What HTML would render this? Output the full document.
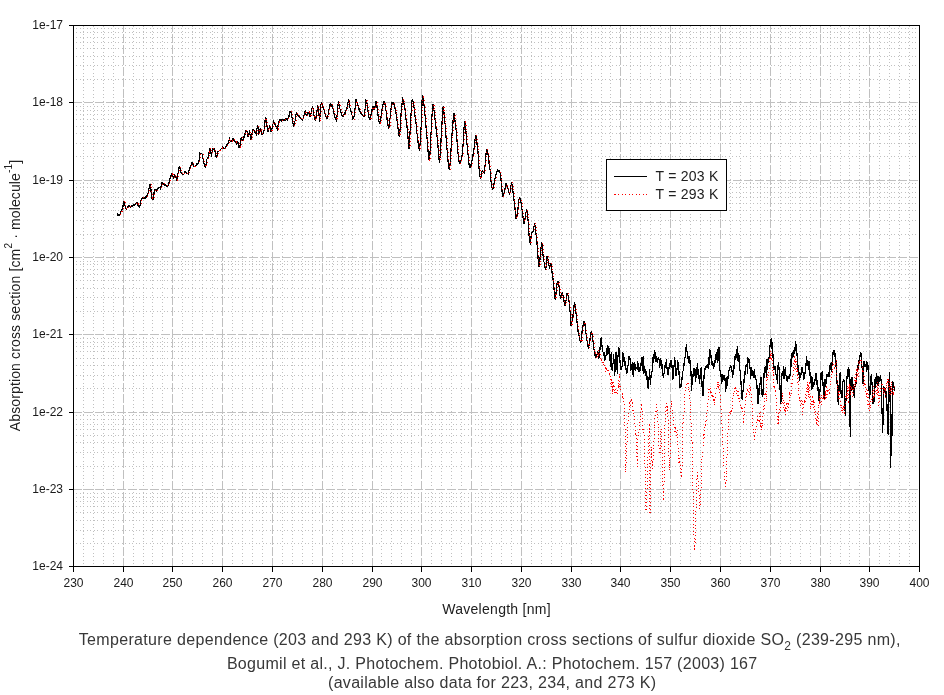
<!DOCTYPE html>
<html><head><meta charset="utf-8"><title>SO2 absorption cross section</title>
<style>html,body{margin:0;padding:0;background:#fff;}svg{display:block;}</style>
</head><body>
<svg width="944" height="695" viewBox="0 0 944 695">
<rect x="0" y="0" width="944" height="695" fill="#fff"/>
<defs><path id="vd" d="M0 26h1v1h-1zM0 31h1v1h-1zM0 34h1v1h-1zM0 38h1v1h-1zM0 41h1v1h-1zM0 45h1v1h-1zM0 48h1v1h-1zM0 52h1v1h-1zM0 55h1v1h-1zM0 59h1v1h-1zM0 62h1v1h-1zM0 66h1v1h-1zM0 69h1v1h-1zM0 73h1v1h-1zM0 76h1v1h-1zM0 80h1v1h-1zM0 83h1v1h-1zM0 87h1v1h-1zM0 90h1v1h-1zM0 94h1v1h-1zM0 97h1v1h-1zM0 101h1v1h-1zM0 104h1v1h-1zM0 108h1v1h-1zM0 111h1v1h-1zM0 115h1v1h-1zM0 118h1v1h-1zM0 122h1v1h-1zM0 125h1v1h-1zM0 129h1v1h-1zM0 132h1v1h-1zM0 136h1v1h-1zM0 139h1v1h-1zM0 143h1v1h-1zM0 146h1v1h-1zM0 150h1v1h-1zM0 153h1v1h-1zM0 158h1v1h-1zM0 161h1v1h-1zM0 165h1v1h-1zM0 168h1v1h-1zM0 172h1v1h-1zM0 175h1v1h-1zM0 179h1v1h-1zM0 182h1v1h-1zM0 186h1v1h-1zM0 189h1v1h-1zM0 193h1v1h-1zM0 196h1v1h-1zM0 200h1v1h-1zM0 203h1v1h-1zM0 207h1v1h-1zM0 210h1v1h-1zM0 214h1v1h-1zM0 217h1v1h-1zM0 221h1v1h-1zM0 224h1v1h-1zM0 228h1v1h-1zM0 231h1v1h-1zM0 235h1v1h-1zM0 238h1v1h-1zM0 242h1v1h-1zM0 245h1v1h-1zM0 249h1v1h-1zM0 252h1v1h-1zM0 256h1v1h-1zM0 259h1v1h-1zM0 263h1v1h-1zM0 266h1v1h-1zM0 270h1v1h-1zM0 273h1v1h-1zM0 277h1v1h-1zM0 280h1v1h-1zM0 284h1v1h-1zM0 287h1v1h-1zM0 292h1v1h-1zM0 295h1v1h-1zM0 299h1v1h-1zM0 302h1v1h-1zM0 306h1v1h-1zM0 309h1v1h-1zM0 313h1v1h-1zM0 316h1v1h-1zM0 320h1v1h-1zM0 323h1v1h-1zM0 327h1v1h-1zM0 330h1v1h-1zM0 334h1v1h-1zM0 337h1v1h-1zM0 341h1v1h-1zM0 344h1v1h-1zM0 348h1v1h-1zM0 351h1v1h-1zM0 355h1v1h-1zM0 358h1v1h-1zM0 362h1v1h-1zM0 365h1v1h-1zM0 369h1v1h-1zM0 372h1v1h-1zM0 376h1v1h-1zM0 379h1v1h-1zM0 383h1v1h-1zM0 386h1v1h-1zM0 390h1v1h-1zM0 393h1v1h-1zM0 397h1v1h-1zM0 400h1v1h-1zM0 404h1v1h-1zM0 407h1v1h-1zM0 411h1v1h-1zM0 414h1v1h-1zM0 419h1v1h-1zM0 422h1v1h-1zM0 426h1v1h-1zM0 429h1v1h-1zM0 433h1v1h-1zM0 436h1v1h-1zM0 440h1v1h-1zM0 443h1v1h-1zM0 447h1v1h-1zM0 450h1v1h-1zM0 454h1v1h-1zM0 457h1v1h-1zM0 461h1v1h-1zM0 464h1v1h-1zM0 468h1v1h-1zM0 471h1v1h-1zM0 475h1v1h-1zM0 478h1v1h-1zM0 482h1v1h-1zM0 485h1v1h-1zM0 489h1v1h-1zM0 492h1v1h-1zM0 496h1v1h-1zM0 499h1v1h-1zM0 503h1v1h-1zM0 506h1v1h-1zM0 510h1v1h-1zM0 513h1v1h-1zM0 517h1v1h-1zM0 520h1v1h-1zM0 524h1v1h-1zM0 527h1v1h-1zM0 531h1v1h-1zM0 534h1v1h-1zM0 538h1v1h-1zM0 541h1v1h-1zM0 546h1v1h-1zM0 549h1v1h-1zM0 553h1v1h-1zM0 556h1v1h-1zM0 560h1v1h-1zM0 563h1v1h-1z" fill="#c0c0c0" shape-rendering="crispEdges"/></defs>
<use href="#vd" x="83"/><use href="#vd" x="93"/><use href="#vd" x="103"/><use href="#vd" x="113"/><use href="#vd" x="133"/><use href="#vd" x="143"/><use href="#vd" x="152"/><use href="#vd" x="162"/><use href="#vd" x="182"/><use href="#vd" x="192"/><use href="#vd" x="202"/><use href="#vd" x="212"/><use href="#vd" x="232"/><use href="#vd" x="242"/><use href="#vd" x="252"/><use href="#vd" x="262"/><use href="#vd" x="282"/><use href="#vd" x="292"/><use href="#vd" x="302"/><use href="#vd" x="312"/><use href="#vd" x="332"/><use href="#vd" x="342"/><use href="#vd" x="352"/><use href="#vd" x="362"/><use href="#vd" x="381"/><use href="#vd" x="391"/><use href="#vd" x="401"/><use href="#vd" x="411"/><use href="#vd" x="431"/><use href="#vd" x="441"/><use href="#vd" x="451"/><use href="#vd" x="461"/><use href="#vd" x="481"/><use href="#vd" x="491"/><use href="#vd" x="501"/><use href="#vd" x="511"/><use href="#vd" x="531"/><use href="#vd" x="541"/><use href="#vd" x="551"/><use href="#vd" x="561"/><use href="#vd" x="581"/><use href="#vd" x="591"/><use href="#vd" x="601"/><use href="#vd" x="610"/><use href="#vd" x="630"/><use href="#vd" x="640"/><use href="#vd" x="650"/><use href="#vd" x="660"/><use href="#vd" x="680"/><use href="#vd" x="690"/><use href="#vd" x="700"/><use href="#vd" x="710"/><use href="#vd" x="730"/><use href="#vd" x="740"/><use href="#vd" x="750"/><use href="#vd" x="760"/><use href="#vd" x="780"/><use href="#vd" x="790"/><use href="#vd" x="800"/><use href="#vd" x="810"/><use href="#vd" x="830"/><use href="#vd" x="840"/><use href="#vd" x="849"/><use href="#vd" x="859"/><use href="#vd" x="879"/><use href="#vd" x="889"/><use href="#vd" x="899"/><use href="#vd" x="909"/>
<defs><path id="hd" d="M76 0h1v1h-1zM80 0h1v1h-1zM83 0h1v1h-1zM87 0h1v1h-1zM90 0h1v1h-1zM94 0h1v1h-1zM97 0h1v1h-1zM101 0h1v1h-1zM104 0h1v1h-1zM108 0h1v1h-1zM111 0h1v1h-1zM115 0h1v1h-1zM118 0h1v1h-1zM122 0h1v1h-1zM125 0h1v1h-1zM129 0h1v1h-1zM132 0h1v1h-1zM136 0h1v1h-1zM139 0h1v1h-1zM143 0h1v1h-1zM146 0h1v1h-1zM150 0h1v1h-1zM153 0h1v1h-1zM157 0h1v1h-1zM160 0h1v1h-1zM164 0h1v1h-1zM167 0h1v1h-1zM171 0h1v1h-1zM174 0h1v1h-1zM178 0h1v1h-1zM181 0h1v1h-1zM185 0h1v1h-1zM188 0h1v1h-1zM192 0h1v1h-1zM195 0h1v1h-1zM199 0h1v1h-1zM202 0h1v1h-1zM206 0h1v1h-1zM210 0h1v1h-1zM214 0h1v1h-1zM217 0h1v1h-1zM221 0h1v1h-1zM224 0h1v1h-1zM228 0h1v1h-1zM231 0h1v1h-1zM235 0h1v1h-1zM238 0h1v1h-1zM242 0h1v1h-1zM245 0h1v1h-1zM249 0h1v1h-1zM252 0h1v1h-1zM256 0h1v1h-1zM259 0h1v1h-1zM263 0h1v1h-1zM266 0h1v1h-1zM270 0h1v1h-1zM273 0h1v1h-1zM277 0h1v1h-1zM280 0h1v1h-1zM284 0h1v1h-1zM287 0h1v1h-1zM291 0h1v1h-1zM294 0h1v1h-1zM298 0h1v1h-1zM301 0h1v1h-1zM305 0h1v1h-1zM308 0h1v1h-1zM312 0h1v1h-1zM315 0h1v1h-1zM319 0h1v1h-1zM322 0h1v1h-1zM326 0h1v1h-1zM329 0h1v1h-1zM333 0h1v1h-1zM337 0h1v1h-1zM341 0h1v1h-1zM344 0h1v1h-1zM348 0h1v1h-1zM351 0h1v1h-1zM355 0h1v1h-1zM358 0h1v1h-1zM362 0h1v1h-1zM365 0h1v1h-1zM369 0h1v1h-1zM372 0h1v1h-1zM376 0h1v1h-1zM379 0h1v1h-1zM383 0h1v1h-1zM386 0h1v1h-1zM390 0h1v1h-1zM393 0h1v1h-1zM397 0h1v1h-1zM400 0h1v1h-1zM404 0h1v1h-1zM407 0h1v1h-1zM411 0h1v1h-1zM414 0h1v1h-1zM418 0h1v1h-1zM421 0h1v1h-1zM425 0h1v1h-1zM428 0h1v1h-1zM432 0h1v1h-1zM435 0h1v1h-1zM439 0h1v1h-1zM442 0h1v1h-1zM446 0h1v1h-1zM449 0h1v1h-1zM453 0h1v1h-1zM456 0h1v1h-1zM460 0h1v1h-1zM464 0h1v1h-1zM468 0h1v1h-1zM471 0h1v1h-1zM475 0h1v1h-1zM478 0h1v1h-1zM482 0h1v1h-1zM485 0h1v1h-1zM489 0h1v1h-1zM492 0h1v1h-1zM496 0h1v1h-1zM499 0h1v1h-1zM503 0h1v1h-1zM506 0h1v1h-1zM510 0h1v1h-1zM513 0h1v1h-1zM517 0h1v1h-1zM520 0h1v1h-1zM524 0h1v1h-1zM527 0h1v1h-1zM531 0h1v1h-1zM534 0h1v1h-1zM538 0h1v1h-1zM541 0h1v1h-1zM545 0h1v1h-1zM548 0h1v1h-1zM552 0h1v1h-1zM555 0h1v1h-1zM559 0h1v1h-1zM562 0h1v1h-1zM566 0h1v1h-1zM569 0h1v1h-1zM573 0h1v1h-1zM576 0h1v1h-1zM580 0h1v1h-1zM583 0h1v1h-1zM587 0h1v1h-1zM591 0h1v1h-1zM595 0h1v1h-1zM598 0h1v1h-1zM602 0h1v1h-1zM605 0h1v1h-1zM609 0h1v1h-1zM612 0h1v1h-1zM616 0h1v1h-1zM619 0h1v1h-1zM623 0h1v1h-1zM626 0h1v1h-1zM630 0h1v1h-1zM633 0h1v1h-1zM637 0h1v1h-1zM640 0h1v1h-1zM644 0h1v1h-1zM647 0h1v1h-1zM651 0h1v1h-1zM654 0h1v1h-1zM658 0h1v1h-1zM661 0h1v1h-1zM665 0h1v1h-1zM668 0h1v1h-1zM672 0h1v1h-1zM675 0h1v1h-1zM679 0h1v1h-1zM682 0h1v1h-1zM686 0h1v1h-1zM689 0h1v1h-1zM693 0h1v1h-1zM696 0h1v1h-1zM700 0h1v1h-1zM703 0h1v1h-1zM707 0h1v1h-1zM710 0h1v1h-1zM714 0h1v1h-1zM718 0h1v1h-1zM722 0h1v1h-1zM725 0h1v1h-1zM729 0h1v1h-1zM732 0h1v1h-1zM736 0h1v1h-1zM739 0h1v1h-1zM743 0h1v1h-1zM746 0h1v1h-1zM750 0h1v1h-1zM753 0h1v1h-1zM757 0h1v1h-1zM760 0h1v1h-1zM764 0h1v1h-1zM767 0h1v1h-1zM771 0h1v1h-1zM774 0h1v1h-1zM778 0h1v1h-1zM781 0h1v1h-1zM785 0h1v1h-1zM788 0h1v1h-1zM792 0h1v1h-1zM795 0h1v1h-1zM799 0h1v1h-1zM802 0h1v1h-1zM806 0h1v1h-1zM809 0h1v1h-1zM813 0h1v1h-1zM816 0h1v1h-1zM820 0h1v1h-1zM823 0h1v1h-1zM827 0h1v1h-1zM830 0h1v1h-1zM834 0h1v1h-1zM837 0h1v1h-1zM841 0h1v1h-1zM844 0h1v1h-1zM848 0h1v1h-1zM852 0h1v1h-1zM856 0h1v1h-1zM859 0h1v1h-1zM863 0h1v1h-1zM866 0h1v1h-1zM870 0h1v1h-1zM873 0h1v1h-1zM877 0h1v1h-1zM880 0h1v1h-1zM884 0h1v1h-1zM887 0h1v1h-1zM891 0h1v1h-1zM894 0h1v1h-1zM898 0h1v1h-1zM901 0h1v1h-1zM905 0h1v1h-1zM908 0h1v1h-1zM912 0h1v1h-1zM915 0h1v1h-1z" fill="#c0c0c0" shape-rendering="crispEdges"/></defs>
<use href="#hd" y="543"/><use href="#hd" y="530"/><use href="#hd" y="520"/><use href="#hd" y="512"/><use href="#hd" y="506"/><use href="#hd" y="501"/><use href="#hd" y="497"/><use href="#hd" y="493"/><use href="#hd" y="466"/><use href="#hd" y="452"/><use href="#hd" y="442"/><use href="#hd" y="435"/><use href="#hd" y="429"/><use href="#hd" y="424"/><use href="#hd" y="419"/><use href="#hd" y="415"/><use href="#hd" y="388"/><use href="#hd" y="375"/><use href="#hd" y="365"/><use href="#hd" y="358"/><use href="#hd" y="351"/><use href="#hd" y="346"/><use href="#hd" y="342"/><use href="#hd" y="338"/><use href="#hd" y="311"/><use href="#hd" y="297"/><use href="#hd" y="288"/><use href="#hd" y="280"/><use href="#hd" y="274"/><use href="#hd" y="269"/><use href="#hd" y="264"/><use href="#hd" y="261"/><use href="#hd" y="234"/><use href="#hd" y="220"/><use href="#hd" y="210"/><use href="#hd" y="203"/><use href="#hd" y="197"/><use href="#hd" y="192"/><use href="#hd" y="187"/><use href="#hd" y="183"/><use href="#hd" y="156"/><use href="#hd" y="143"/><use href="#hd" y="133"/><use href="#hd" y="126"/><use href="#hd" y="119"/><use href="#hd" y="114"/><use href="#hd" y="110"/><use href="#hd" y="106"/><use href="#hd" y="79"/><use href="#hd" y="65"/><use href="#hd" y="56"/><use href="#hd" y="48"/><use href="#hd" y="42"/><use href="#hd" y="37"/><use href="#hd" y="32"/><use href="#hd" y="28"/>
<defs><path id="vm" d="M0 26h1v6h-1zM0 34h1v9h-1zM0 45h1v9h-1zM0 56h1v9h-1zM0 67h1v9h-1zM0 78h1v9h-1zM0 89h1v9h-1zM0 99h1v9h-1zM0 110h1v9h-1zM0 121h1v9h-1zM0 132h1v9h-1zM0 143h1v9h-1zM0 154h1v9h-1zM0 165h1v9h-1zM0 176h1v9h-1zM0 187h1v9h-1zM0 198h1v9h-1zM0 209h1v9h-1zM0 219h1v9h-1zM0 230h1v9h-1zM0 241h1v9h-1zM0 252h1v9h-1zM0 263h1v9h-1zM0 274h1v9h-1zM0 285h1v9h-1zM0 296h1v9h-1zM0 307h1v9h-1zM0 318h1v9h-1zM0 329h1v9h-1zM0 339h1v9h-1zM0 350h1v9h-1zM0 361h1v9h-1zM0 372h1v9h-1zM0 383h1v9h-1zM0 394h1v9h-1zM0 405h1v9h-1zM0 416h1v9h-1zM0 427h1v9h-1zM0 438h1v9h-1zM0 449h1v9h-1zM0 459h1v9h-1zM0 470h1v9h-1zM0 481h1v9h-1zM0 492h1v9h-1zM0 503h1v9h-1zM0 514h1v9h-1zM0 525h1v9h-1zM0 536h1v9h-1zM0 547h1v9h-1zM0 558h1v8h-1z" fill="#c0c0c0" shape-rendering="crispEdges"/></defs>
<use href="#vm" x="123"/><use href="#vm" x="172"/><use href="#vm" x="222"/><use href="#vm" x="272"/><use href="#vm" x="322"/><use href="#vm" x="372"/><use href="#vm" x="421"/><use href="#vm" x="471"/><use href="#vm" x="521"/><use href="#vm" x="571"/><use href="#vm" x="620"/><use href="#vm" x="670"/><use href="#vm" x="720"/><use href="#vm" x="770"/><use href="#vm" x="820"/><use href="#vm" x="869"/>
<path d="M73 489.5H919 M73 412.5H919 M73 334.5H919 M73 257.5H919 M73 180.5H919 M73 102.5H919" stroke="#c0c0c0" stroke-width="1" stroke-dasharray="9 2" fill="none" shape-rendering="crispEdges"/>
<path d="M117.10 213.52 L117.55 215.34 L118.00 215.85 L118.45 215.10 L118.90 215.32 L119.10 215.18 L119.35 215.67 L119.80 214.37 L120.25 213.68 L120.40 211.79 L120.70 213.26 L121.15 211.44 L121.60 211.05 L122.05 209.57 L122.30 208.77 L122.50 208.57 L122.95 206.49 L123.40 203.43 L123.85 201.93 L124.00 202.31 L124.30 202.00 L124.75 203.63 L124.90 205.34 L125.20 205.71 L125.65 206.57 L126.10 208.58 L126.55 209.41 L126.60 208.98 L127.00 208.12 L127.45 207.38 L127.90 206.53 L128.10 205.66 L128.35 205.37 L128.80 206.14 L129.25 206.48 L129.70 206.02 L130.15 206.66 L130.60 207.02 L130.70 206.28 L131.05 205.90 L131.50 206.57 L131.95 206.45 L132.40 206.88 L132.85 205.36 L133.30 205.62 L133.75 205.38 L134.00 204.76 L134.20 205.76 L134.65 205.48 L135.10 203.96 L135.55 204.43 L136.00 203.40 L136.45 202.91 L136.60 202.74 L136.90 203.30 L137.35 202.79 L137.80 204.87 L138.25 205.68 L138.70 205.11 L139.15 207.02 L139.50 206.85 L139.60 207.41 L140.05 205.18 L140.50 202.84 L140.95 200.58 L141.30 198.77 L141.40 199.52 L141.85 198.53 L142.30 198.41 L142.75 197.43 L143.20 198.15 L143.65 197.76 L143.70 197.29 L144.10 197.78 L144.55 198.16 L145.00 198.47 L145.45 196.46 L145.60 197.93 L145.90 197.59 L146.35 196.81 L146.80 195.53 L147.25 195.94 L147.70 193.33 L148.15 193.27 L148.20 193.58 L148.60 190.24 L149.05 188.40 L149.50 185.14 L149.95 184.26 L150.20 184.71 L150.40 185.62 L150.85 187.81 L151.30 194.17 L151.70 197.82 L151.75 198.46 L152.20 198.69 L152.65 198.62 L153.10 199.48 L153.55 197.42 L154.00 193.42 L154.45 189.80 L154.70 189.83 L154.90 189.82 L155.35 189.90 L155.80 190.27 L156.25 190.01 L156.60 190.61 L156.70 191.60 L157.15 190.17 L157.60 188.39 L158.05 189.01 L158.50 187.94 L158.60 188.86 L158.95 187.70 L159.40 187.59 L159.85 187.24 L160.30 189.07 L160.50 189.84 L160.75 187.56 L161.20 186.28 L161.65 185.11 L162.10 182.60 L162.50 182.34 L162.55 182.29 L163.00 183.00 L163.45 184.30 L163.90 184.46 L164.35 185.52 L164.40 184.75 L164.80 185.37 L165.25 184.07 L165.70 184.63 L166.15 186.09 L166.60 185.33 L167.00 186.05 L167.05 186.02 L167.50 186.24 L167.95 185.37 L168.40 184.70 L168.85 183.13 L168.90 182.68 L169.30 181.52 L169.75 179.93 L170.20 177.92 L170.65 176.73 L171.10 175.43 L171.55 174.48 L171.90 173.80 L172.00 172.88 L172.45 174.83 L172.90 176.41 L173.35 178.17 L173.70 178.25 L173.80 177.42 L174.25 175.52 L174.70 175.30 L174.80 174.45 L175.15 175.63 L175.60 177.53 L176.05 177.81 L176.50 179.95 L176.70 180.17 L176.95 179.90 L177.40 177.91 L177.85 174.64 L178.30 171.29 L178.75 167.50 L179.20 166.86 L179.30 166.45 L179.65 167.41 L180.10 168.54 L180.55 171.07 L181.00 172.77 L181.20 172.89 L181.45 173.27 L181.90 173.77 L182.35 173.97 L182.80 174.49 L183.20 174.40 L183.25 174.93 L183.70 174.26 L184.15 173.75 L184.60 171.75 L185.05 172.64 L185.10 171.64 L185.50 171.78 L185.95 172.46 L186.40 172.71 L186.85 173.70 L187.30 173.53 L187.70 173.36 L187.75 173.49 L188.20 174.22 L188.65 172.24 L189.10 170.01 L189.55 169.30 L189.70 167.97 L190.00 169.19 L190.45 165.88 L190.90 165.74 L191.35 164.58 L191.80 162.51 L192.25 163.18 L192.30 163.60 L192.70 163.66 L193.15 164.55 L193.60 166.09 L194.05 166.34 L194.20 166.50 L194.50 166.18 L194.95 166.41 L195.40 165.11 L195.85 165.72 L196.30 164.48 L196.75 163.69 L196.80 164.52 L197.20 165.00 L197.65 164.23 L198.10 162.94 L198.55 163.08 L198.70 162.13 L199.00 160.83 L199.45 156.86 L199.90 152.44 L200.00 153.81 L200.35 153.11 L200.80 153.42 L201.25 153.15 L201.70 153.40 L202.15 154.10 L202.30 155.30 L202.60 156.62 L203.05 158.27 L203.50 162.13 L203.95 163.69 L204.00 162.85 L204.40 165.21 L204.85 166.46 L205.30 166.57 L205.50 167.08 L205.75 166.70 L206.20 163.07 L206.65 159.57 L206.90 159.27 L207.10 158.84 L207.55 158.11 L208.00 158.31 L208.30 158.14 L208.45 156.28 L208.90 153.72 L209.35 150.21 L209.80 148.33 L210.25 149.72 L210.70 151.42 L211.15 154.49 L211.50 156.01 L211.60 155.19 L212.05 152.28 L212.50 150.11 L212.90 149.26 L212.95 148.72 L213.40 148.24 L213.85 149.68 L214.30 148.28 L214.40 149.40 L214.75 150.13 L215.20 152.19 L215.65 156.51 L216.10 157.31 L216.55 155.75 L217.00 155.34 L217.45 153.12 L217.80 151.36 L217.90 151.92 L218.35 151.81 L218.80 151.44 L219.25 150.65 L219.70 150.12 L220.10 149.98 L220.15 149.52 L220.60 149.89 L221.05 148.79 L221.50 148.42 L221.95 148.18 L222.40 146.92 L222.85 146.99 L223.00 148.32 L223.30 147.69 L223.75 147.68 L224.20 148.48 L224.65 148.21 L224.70 148.67 L225.10 147.91 L225.55 147.91 L226.00 146.00 L226.45 146.86 L226.90 144.95 L227.00 144.15 L227.35 144.50 L227.80 143.82 L228.20 143.39 L228.25 142.48 L228.70 141.00 L229.15 140.59 L229.30 137.43 L229.60 138.82 L230.05 140.01 L230.50 141.90 L230.80 141.11 L230.95 141.45 L231.40 141.72 L231.85 140.30 L232.30 140.23 L232.75 138.28 L232.80 138.80 L233.20 140.61 L233.65 138.89 L234.10 139.43 L234.50 140.48 L234.55 140.53 L235.00 141.73 L235.45 142.04 L235.90 142.11 L236.20 142.93 L236.35 144.45 L236.80 143.75 L237.25 141.40 L237.70 143.09 L238.00 142.77 L238.15 143.83 L238.60 144.49 L239.05 147.30 L239.50 147.81 L239.70 147.93 L239.95 146.79 L240.40 142.97 L240.85 139.16 L241.20 138.38 L241.30 137.95 L241.75 138.18 L242.20 140.35 L242.65 140.54 L242.80 140.45 L243.10 139.77 L243.55 138.78 L244.00 137.07 L244.45 133.97 L244.90 134.71 L245.35 132.95 L245.80 130.97 L246.25 130.80 L246.40 130.36 L246.70 131.01 L247.15 131.83 L247.60 135.44 L247.80 136.22 L248.05 136.66 L248.50 135.71 L248.95 134.12 L249.40 131.74 L249.50 131.08 L249.85 133.57 L250.30 135.84 L250.75 139.18 L251.20 139.82 L251.65 138.23 L252.10 133.34 L252.55 130.91 L252.90 129.23 L253.00 129.72 L253.45 130.13 L253.90 130.43 L254.35 131.45 L254.70 131.79 L254.80 132.41 L255.25 133.11 L255.70 133.33 L256.15 133.74 L256.20 135.15 L256.60 131.96 L257.05 128.04 L257.50 125.14 L257.95 126.80 L258.40 130.97 L258.85 134.14 L258.90 134.25 L259.30 133.57 L259.75 130.28 L260.20 128.89 L260.40 128.94 L260.65 130.29 L261.10 129.69 L261.55 133.56 L262.00 134.32 L262.10 134.96 L262.45 134.20 L262.90 133.94 L263.35 133.45 L263.80 131.26 L263.90 130.96 L264.25 128.70 L264.70 123.41 L265.15 119.72 L265.60 117.27 L266.05 118.38 L266.50 122.04 L266.95 125.09 L267.00 125.95 L267.40 127.88 L267.85 129.93 L268.10 131.57 L268.30 131.07 L268.75 129.62 L269.20 127.27 L269.60 126.03 L269.65 125.87 L270.10 127.41 L270.55 130.63 L271.00 131.79 L271.10 130.91 L271.45 131.31 L271.90 128.93 L272.35 127.91 L272.50 126.48 L272.80 124.87 L273.25 123.02 L273.60 121.95 L273.70 121.02 L274.15 122.99 L274.60 124.84 L275.05 123.81 L275.40 126.59 L275.50 125.30 L275.95 126.58 L276.40 128.00 L276.85 128.23 L277.30 130.28 L277.75 128.30 L278.20 124.48 L278.65 122.21 L278.80 121.09 L279.10 121.42 L279.55 121.73 L280.00 119.79 L280.45 120.30 L280.90 120.46 L281.10 120.93 L281.35 121.03 L281.80 119.80 L282.25 119.51 L282.70 120.12 L283.15 119.55 L283.60 119.53 L284.00 120.35 L284.05 120.71 L284.50 119.86 L284.95 119.58 L285.40 120.04 L285.85 118.57 L286.30 119.69 L286.75 118.95 L287.20 120.69 L287.65 119.20 L288.10 118.25 L288.55 117.36 L288.60 115.89 L289.00 116.66 L289.45 115.19 L289.90 111.95 L290.30 112.11 L290.35 112.14 L290.80 111.41 L291.25 114.31 L291.70 116.43 L292.10 117.54 L292.15 117.60 L292.60 121.57 L293.05 123.93 L293.40 126.16 L293.50 126.71 L293.95 124.73 L294.40 124.87 L294.85 122.52 L294.90 121.35 L295.30 120.07 L295.75 115.71 L296.20 114.00 L296.30 113.00 L296.65 114.65 L297.10 114.44 L297.50 115.61 L297.55 115.06 L298.00 115.35 L298.45 116.33 L298.90 115.83 L299.20 115.56 L299.35 115.15 L299.80 117.31 L300.25 118.06 L300.70 118.33 L300.90 118.95 L301.15 118.45 L301.60 118.93 L302.05 119.41 L302.50 120.30 L302.60 120.28 L302.95 119.06 L303.40 118.07 L303.85 116.06 L303.90 115.50 L304.30 114.30 L304.75 111.54 L305.20 110.73 L305.65 112.54 L306.10 114.66 L306.40 115.88 L306.55 114.63 L307.00 115.93 L307.45 114.07 L307.70 114.10 L307.90 112.93 L308.35 112.71 L308.60 112.76 L308.80 112.89 L309.25 114.54 L309.70 115.27 L310.10 116.63 L310.15 116.81 L310.60 115.12 L311.05 113.76 L311.50 110.91 L311.95 108.97 L312.40 107.88 L312.60 106.83 L312.85 107.48 L313.30 110.43 L313.60 113.20 L313.75 113.92 L314.20 116.82 L314.65 119.72 L315.10 119.89 L315.30 120.56 L315.55 120.54 L316.00 117.17 L316.45 114.39 L316.60 114.31 L316.90 111.90 L317.35 107.78 L317.70 105.73 L317.80 105.65 L318.25 108.32 L318.70 110.58 L319.15 116.85 L319.60 121.70 L320.05 115.54 L320.40 109.93 L320.50 109.22 L320.95 104.68 L321.40 102.19 L321.85 103.02 L322.30 105.25 L322.50 104.74 L322.75 106.03 L323.20 108.18 L323.65 109.01 L324.10 110.12 L324.20 110.48 L324.55 111.65 L325.00 113.45 L325.45 114.30 L325.90 116.28 L326.35 118.16 L326.80 117.71 L327.20 118.76 L327.25 118.16 L327.70 116.25 L328.15 114.46 L328.60 111.16 L329.05 109.47 L329.30 107.11 L329.50 107.66 L329.95 105.18 L330.20 103.19 L330.40 104.88 L330.85 105.46 L331.30 104.27 L331.40 105.39 L331.75 104.29 L332.20 106.96 L332.65 107.44 L332.70 108.89 L333.10 108.93 L333.55 110.19 L334.00 113.80 L334.45 116.59 L334.80 115.94 L334.90 117.08 L335.35 118.00 L335.80 118.97 L336.25 120.33 L336.50 121.09 L336.70 118.57 L337.15 114.47 L337.40 111.41 L337.60 108.15 L338.05 104.73 L338.40 103.07 L338.50 101.41 L338.95 104.74 L339.40 106.12 L339.50 106.40 L339.85 108.66 L340.30 109.40 L340.75 110.87 L341.20 112.91 L341.65 114.21 L342.10 115.44 L342.55 115.15 L342.90 115.36 L343.00 116.96 L343.45 115.37 L343.90 115.30 L344.35 113.63 L344.80 113.19 L345.00 112.13 L345.25 113.39 L345.70 110.89 L346.15 110.43 L346.60 109.23 L347.05 108.69 L347.10 106.95 L347.50 105.62 L347.95 102.27 L348.40 100.33 L348.60 99.98 L348.85 100.11 L349.30 103.83 L349.70 106.28 L349.75 107.02 L350.20 108.61 L350.65 109.96 L351.10 111.88 L351.40 113.12 L351.55 114.78 L352.00 114.88 L352.45 117.11 L352.90 119.24 L353.35 117.89 L353.50 118.15 L353.80 117.79 L354.25 115.53 L354.70 113.46 L355.15 107.04 L355.60 102.46 L355.80 100.87 L356.05 99.58 L356.50 100.04 L356.90 102.51 L356.95 102.08 L357.40 102.40 L357.85 105.66 L358.30 105.91 L358.60 108.48 L358.75 109.06 L359.20 108.84 L359.65 109.66 L360.10 111.79 L360.55 111.52 L361.00 113.51 L361.45 113.04 L361.90 114.94 L362.00 114.66 L362.35 114.88 L362.80 115.32 L363.25 116.65 L363.70 115.82 L364.10 116.93 L364.15 116.81 L364.60 113.84 L364.90 109.55 L365.05 109.96 L365.50 103.97 L365.95 99.72 L366.20 100.53 L366.40 101.02 L366.85 102.42 L367.30 105.48 L367.50 107.41 L367.75 108.67 L368.20 112.17 L368.65 116.09 L368.70 115.64 L369.10 117.45 L369.55 119.49 L370.00 120.07 L370.45 119.20 L370.90 116.18 L371.35 112.52 L371.40 112.56 L371.80 111.96 L372.25 108.55 L372.70 106.77 L372.90 107.93 L373.15 106.95 L373.60 107.49 L374.05 109.76 L374.30 109.06 L374.50 109.00 L374.95 107.21 L375.40 103.88 L375.85 101.42 L376.00 101.37 L376.30 101.94 L376.75 105.60 L377.20 108.16 L377.65 111.92 L377.90 115.12 L378.10 114.75 L378.55 118.91 L379.00 121.58 L379.45 122.66 L379.80 122.45 L379.90 123.50 L380.35 121.85 L380.80 118.77 L381.25 114.78 L381.50 113.92 L381.70 112.94 L382.15 108.78 L382.60 107.53 L383.05 104.35 L383.50 102.14 L383.95 101.52 L384.00 102.83 L384.40 102.93 L384.85 103.16 L385.30 106.82 L385.75 109.25 L385.80 109.49 L386.20 111.79 L386.65 114.79 L387.10 120.06 L387.55 122.66 L388.00 126.00 L388.45 127.65 L388.70 127.86 L388.90 128.38 L389.35 125.27 L389.80 120.42 L390.10 117.63 L390.25 116.65 L390.70 112.80 L391.15 107.45 L391.60 104.04 L391.90 102.90 L392.05 102.95 L392.50 103.32 L392.95 102.25 L393.40 104.57 L393.70 103.33 L393.85 103.62 L394.30 105.83 L394.75 106.92 L395.20 108.97 L395.65 110.90 L395.90 111.56 L396.10 113.69 L396.55 117.37 L397.00 119.82 L397.45 125.15 L397.90 127.55 L398.35 131.26 L398.80 134.69 L399.25 135.95 L399.50 136.61 L399.70 134.96 L400.15 128.76 L400.60 120.07 L400.90 116.08 L401.05 114.39 L401.50 108.50 L401.95 104.18 L402.40 99.70 L402.80 97.61 L402.85 100.30 L403.30 99.34 L403.75 101.32 L404.20 105.60 L404.50 107.40 L404.65 106.92 L405.10 109.84 L405.55 113.70 L406.00 118.90 L406.45 122.17 L406.90 126.09 L407.35 130.73 L407.40 131.92 L407.80 134.80 L408.25 141.15 L408.70 145.21 L409.10 149.00 L409.15 148.73 L409.60 142.97 L410.05 132.30 L410.50 123.09 L410.60 119.84 L410.95 115.86 L411.40 107.74 L411.85 101.84 L412.30 99.19 L412.40 99.29 L412.75 100.40 L413.20 102.55 L413.65 105.37 L414.10 108.17 L414.55 112.56 L414.60 112.43 L415.00 116.16 L415.45 118.62 L415.90 121.47 L416.35 126.90 L416.80 132.48 L417.25 135.24 L417.50 136.78 L417.70 139.03 L418.15 142.83 L418.60 146.66 L419.05 148.83 L419.40 149.95 L419.50 149.89 L419.95 145.88 L420.40 138.80 L420.85 131.35 L421.10 127.38 L421.30 122.93 L421.75 109.80 L422.20 98.37 L422.50 96.75 L422.65 95.49 L423.10 97.78 L423.55 101.65 L424.00 104.56 L424.40 108.26 L424.45 109.15 L424.90 113.94 L425.35 118.26 L425.80 123.82 L426.25 129.22 L426.70 133.69 L426.80 136.17 L427.15 139.46 L427.60 144.52 L428.05 151.36 L428.50 155.44 L428.95 159.21 L429.30 160.71 L429.40 159.98 L429.85 156.79 L430.30 146.91 L430.75 138.26 L431.20 130.04 L431.65 122.67 L432.10 113.87 L432.55 106.70 L433.00 103.85 L433.45 105.32 L433.90 109.77 L434.35 113.22 L434.70 117.12 L434.80 117.55 L435.25 121.30 L435.70 124.54 L436.15 129.60 L436.60 131.67 L437.05 136.16 L437.50 140.39 L437.60 141.57 L437.95 145.78 L438.40 152.62 L438.85 159.19 L439.30 161.07 L439.40 162.11 L439.75 159.93 L440.20 155.51 L440.65 146.90 L441.10 138.29 L441.55 130.63 L441.70 129.15 L442.00 123.44 L442.45 114.52 L442.90 109.04 L443.10 106.84 L443.35 106.65 L443.80 110.56 L444.25 115.12 L444.70 120.85 L444.80 122.39 L445.15 124.09 L445.60 132.02 L446.05 137.46 L446.50 142.73 L446.70 144.73 L446.95 148.84 L447.40 153.11 L447.85 158.51 L448.30 163.99 L448.75 166.89 L449.20 169.82 L449.30 169.54 L449.65 168.60 L450.10 164.16 L450.55 156.66 L451.00 150.41 L451.45 141.49 L451.90 136.44 L452.35 129.23 L452.80 124.27 L453.25 118.15 L453.70 115.11 L454.00 113.92 L454.15 113.19 L454.60 116.23 L455.05 121.07 L455.50 125.91 L455.70 126.43 L455.95 128.24 L456.40 133.63 L456.85 139.22 L457.30 144.39 L457.75 149.60 L458.20 155.45 L458.65 159.58 L459.10 162.38 L459.55 162.84 L459.70 163.56 L460.00 163.20 L460.45 161.49 L460.90 161.26 L461.35 158.66 L461.80 155.86 L462.25 154.36 L462.30 153.67 L462.70 150.04 L463.15 143.84 L463.60 136.16 L464.05 128.04 L464.50 123.55 L464.90 122.71 L464.95 121.68 L465.40 124.79 L465.85 130.37 L466.30 136.99 L466.60 140.19 L466.75 141.36 L467.20 145.29 L467.65 150.82 L468.10 155.39 L468.55 159.38 L469.00 163.96 L469.45 166.05 L469.90 166.51 L470.00 167.77 L470.35 166.64 L470.80 166.29 L471.25 163.62 L471.70 162.68 L472.15 159.96 L472.60 157.57 L473.05 154.53 L473.50 154.49 L473.95 149.71 L474.40 145.34 L474.85 141.24 L475.30 137.02 L475.70 136.21 L475.75 135.11 L476.20 137.47 L476.65 140.30 L477.10 145.06 L477.55 149.32 L477.80 150.67 L478.00 152.34 L478.45 158.38 L478.90 165.77 L479.35 171.69 L479.80 176.54 L480.25 177.70 L480.40 177.49 L480.70 178.09 L481.15 175.69 L481.60 172.57 L482.05 171.54 L482.10 171.20 L482.50 170.73 L482.95 171.28 L483.40 172.31 L483.85 172.53 L484.00 172.46 L484.30 173.13 L484.75 168.31 L485.20 163.60 L485.65 157.48 L486.10 153.05 L486.55 150.53 L486.80 150.04 L487.00 149.77 L487.45 151.51 L487.90 153.85 L488.35 155.98 L488.80 158.81 L489.25 165.80 L489.60 167.50 L489.70 167.68 L490.15 170.55 L490.60 175.33 L491.05 181.50 L491.50 183.12 L491.95 187.67 L492.40 189.87 L492.50 189.49 L492.85 189.44 L493.30 187.40 L493.75 186.66 L494.20 182.04 L494.65 179.36 L495.10 178.36 L495.55 177.35 L496.00 174.65 L496.45 173.60 L496.90 171.24 L497.35 169.93 L497.70 171.24 L497.80 171.35 L498.25 171.45 L498.70 170.56 L499.15 170.56 L499.60 171.09 L499.90 172.07 L500.05 172.92 L500.50 175.57 L500.95 178.79 L501.40 184.95 L501.85 189.93 L502.30 194.07 L502.75 196.22 L502.90 196.28 L503.20 196.49 L503.65 194.97 L504.10 193.08 L504.55 190.20 L505.00 188.49 L505.45 186.12 L505.90 183.49 L506.30 184.59 L506.35 184.15 L506.80 185.38 L507.25 185.92 L507.70 187.59 L508.15 189.58 L508.60 191.21 L509.05 192.41 L509.50 192.53 L509.80 194.91 L509.95 192.60 L510.40 190.37 L510.85 186.58 L511.30 183.16 L511.50 182.84 L511.75 183.23 L512.20 185.20 L512.65 187.55 L513.10 192.93 L513.55 194.94 L514.00 200.24 L514.45 204.29 L514.90 208.07 L515.35 212.95 L515.80 217.99 L516.20 218.37 L516.25 218.36 L516.70 218.02 L517.15 215.18 L517.60 212.34 L518.05 207.70 L518.50 203.34 L518.95 199.88 L519.40 198.44 L519.60 197.99 L519.85 197.46 L520.30 199.35 L520.75 201.02 L521.20 203.15 L521.40 204.04 L521.65 206.93 L522.10 210.36 L522.55 214.58 L522.60 214.04 L523.00 217.15 L523.45 221.33 L523.90 223.76 L524.00 223.49 L524.35 222.80 L524.80 220.88 L525.25 217.39 L525.50 215.21 L525.70 214.50 L526.15 211.78 L526.60 210.45 L526.80 209.40 L527.05 210.67 L527.50 214.85 L527.90 218.72 L527.95 218.71 L528.40 225.61 L528.60 228.87 L528.85 232.31 L529.30 238.51 L529.75 242.49 L530.10 243.11 L530.20 244.61 L530.65 240.69 L531.10 235.95 L531.50 233.28 L531.55 232.37 L532.00 232.10 L532.45 232.03 L532.90 232.03 L533.20 230.94 L533.35 228.55 L533.80 227.52 L534.25 224.72 L534.70 223.78 L535.15 225.66 L535.60 231.28 L535.80 232.55 L536.05 234.68 L536.50 238.52 L536.95 241.80 L537.00 243.71 L537.40 249.27 L537.85 255.47 L538.00 257.95 L538.30 261.25 L538.75 265.21 L539.10 266.83 L539.20 266.60 L539.65 263.45 L540.10 257.23 L540.55 252.55 L540.60 250.65 L541.00 248.17 L541.45 243.76 L541.90 242.91 L542.35 246.78 L542.80 252.57 L543.00 254.63 L543.25 256.81 L543.70 261.08 L544.15 262.35 L544.20 263.83 L544.60 264.84 L545.05 268.04 L545.50 269.84 L545.60 269.29 L545.95 268.03 L546.40 262.70 L546.85 256.40 L547.10 256.05 L547.30 256.17 L547.75 257.47 L548.20 261.56 L548.50 262.82 L548.65 264.78 L549.10 265.51 L549.50 267.92 L549.55 266.57 L550.00 267.01 L550.45 264.50 L550.90 263.57 L551.35 265.52 L551.80 269.58 L552.25 274.36 L552.40 275.84 L552.70 276.99 L553.15 280.12 L553.60 283.02 L553.80 286.07 L554.05 289.18 L554.50 294.06 L554.95 298.10 L555.30 299.09 L555.40 298.72 L555.85 294.68 L556.30 289.62 L556.40 287.54 L556.75 286.70 L557.20 282.63 L557.65 281.61 L557.90 281.02 L558.10 281.43 L558.55 283.04 L559.00 285.98 L559.30 288.46 L559.45 288.94 L559.90 294.89 L560.35 296.82 L560.80 298.30 L561.25 297.32 L561.70 295.01 L562.15 292.94 L562.20 294.24 L562.60 295.14 L563.05 295.73 L563.50 298.96 L563.95 300.72 L564.40 303.59 L564.85 305.18 L565.10 305.49 L565.30 305.15 L565.75 301.99 L566.20 299.19 L566.65 294.80 L567.10 293.29 L567.20 293.42 L567.55 293.43 L568.00 294.97 L568.45 298.97 L568.70 299.52 L568.90 300.94 L569.35 304.15 L569.80 309.26 L570.10 311.60 L570.25 312.24 L570.70 321.54 L571.10 325.94 L571.15 325.76 L571.60 323.43 L572.05 321.86 L572.50 319.73 L572.60 319.43 L572.95 316.29 L573.40 310.80 L573.85 307.07 L574.30 303.85 L574.50 302.30 L574.75 303.33 L575.20 306.26 L575.65 309.72 L575.90 312.01 L576.10 313.79 L576.55 317.94 L577.00 322.01 L577.30 323.88 L577.45 326.23 L577.90 330.11 L578.35 333.52 L578.80 334.77 L579.25 336.91 L579.70 339.85 L580.15 341.55 L580.60 341.97 L580.90 342.42 L581.05 341.24 L581.50 338.54 L581.95 332.49 L582.40 328.90 L582.85 326.49 L583.30 324.06 L583.75 321.38 L584.20 321.33 L584.30 321.99 L584.65 322.75 L585.10 325.70 L585.50 329.25 L585.55 329.75 L586.00 333.29 L586.45 336.00 L586.90 339.86 L587.00 340.29 L587.35 342.30 L587.80 344.86 L588.25 347.49 L588.40 347.17 L588.70 348.35 L589.15 344.35 L589.60 340.89 L589.90 338.85 L590.05 339.34 L590.50 334.63 L590.95 332.56 L591.30 331.43 L591.40 331.87 L591.85 333.30 L592.30 335.99 L592.75 338.55 L592.80 339.09 L593.20 342.52 L593.65 346.03 L594.10 350.20 L594.55 352.74 L594.60 351.90 L595.00 355.06 L595.45 357.67 L595.90 357.25 L596.10 356.02 L596.35 357.56 L596.80 354.97 L597.25 353.69 L597.50 353.15 L597.70 351.86 L598.15 354.51 L598.60 353.08 L598.90 358.17 L599.05 356.41 L599.50 354.68 L599.95 349.54 L600.40 342.34 L600.80 340.86 L600.85 339.37 L601.30 337.74 L601.75 344.14 L602.20 347.44 L602.60 346.47 L602.65 351.15 L603.10 352.03 L603.55 355.63 L604.00 354.58 L604.45 353.08 L604.70 360.75 L604.90 360.24 L605.35 357.68 L605.80 355.97 L606.25 355.48 L606.70 354.86 L606.90 353.07 L607.15 346.81 L607.60 354.22 L607.90 345.51 L608.05 349.63 L608.50 350.41 L608.95 353.66 L609.40 348.64 L609.50 358.87 L609.85 358.75 L610.30 362.32 L610.75 366.61 L610.80 359.56 L611.20 352.60 L611.65 365.93 L612.10 370.19 L612.50 369.93 L612.55 363.97 L613.00 363.83 L613.45 362.60 L613.80 354.35 L613.90 358.67 L614.35 364.76 L614.70 375.72 L614.80 367.70 L615.25 371.02 L615.70 359.77 L616.00 352.22 L616.15 366.20 L616.60 358.89 L617.05 368.84 L617.30 373.57 L617.50 364.71 L617.95 355.29 L618.40 356.26 L618.60 351.83 L618.85 347.93 L619.30 351.60 L619.75 357.38 L619.80 362.37 L620.20 360.10 L620.65 365.55 L621.10 369.98 L621.55 367.90 L622.00 366.71 L622.45 363.91 L622.90 352.27 L623.30 361.58 L623.35 358.46 L623.80 358.05 L624.25 357.19 L624.70 358.44 L625.00 362.01 L625.15 366.88 L625.60 366.62 L625.90 369.04 L626.05 369.69 L626.50 373.45 L626.95 368.80 L627.40 367.82 L627.50 372.64 L627.85 365.34 L628.30 365.77 L628.75 356.91 L629.20 359.14 L629.65 356.93 L629.80 357.01 L630.10 359.67 L630.55 368.12 L630.60 370.85 L631.00 368.32 L631.45 369.29 L631.90 366.48 L632.35 362.19 L632.80 374.17 L633.20 372.82 L633.25 376.07 L633.70 369.98 L634.15 362.28 L634.50 369.46 L634.60 367.60 L635.05 364.27 L635.50 365.25 L635.80 370.93 L635.95 368.43 L636.40 368.55 L636.85 367.97 L637.30 367.94 L637.50 361.15 L637.75 367.89 L638.20 370.32 L638.65 367.53 L638.80 363.47 L639.10 371.65 L639.55 368.20 L640.00 371.17 L640.45 365.88 L640.60 363.45 L640.90 366.80 L641.35 358.03 L641.80 363.55 L642.25 363.13 L642.30 370.31 L642.70 367.30 L643.15 356.06 L643.60 373.01 L644.00 366.15 L644.05 372.17 L644.50 368.74 L644.95 372.14 L645.40 374.39 L645.70 373.52 L645.85 369.86 L646.30 379.21 L646.75 376.92 L647.20 376.89 L647.50 380.52 L647.65 376.96 L648.10 388.43 L648.30 383.14 L648.55 382.80 L649.00 378.72 L649.45 370.79 L649.60 369.55 L649.90 376.00 L650.35 380.55 L650.50 384.48 L650.80 380.63 L651.25 372.18 L651.70 373.66 L652.15 370.90 L652.20 371.18 L652.60 365.99 L653.05 357.22 L653.50 362.81 L653.90 354.81 L653.95 359.29 L654.40 351.07 L654.85 358.70 L655.30 352.93 L655.70 359.36 L655.75 361.77 L656.20 361.95 L656.65 356.89 L656.90 358.36 L657.10 358.44 L657.55 362.44 L658.00 359.42 L658.45 357.29 L658.70 357.54 L658.90 358.72 L659.35 360.79 L659.80 367.12 L660.25 363.48 L660.40 364.97 L660.70 358.60 L661.15 361.43 L661.60 364.59 L662.05 364.20 L662.10 369.32 L662.50 375.26 L662.95 374.87 L663.40 377.14 L663.85 374.60 L664.30 371.85 L664.70 365.72 L664.75 368.79 L665.20 365.28 L665.65 362.58 L666.10 362.12 L666.40 359.13 L666.55 359.79 L667.00 368.75 L667.45 367.46 L667.90 374.58 L668.20 372.99 L668.35 371.10 L668.80 369.78 L669.25 366.28 L669.70 366.83 L669.90 363.78 L670.15 363.26 L670.60 366.66 L671.05 360.36 L671.20 364.69 L671.50 362.41 L671.95 367.63 L672.40 366.07 L672.85 370.68 L672.90 379.42 L673.30 371.88 L673.75 369.40 L674.20 363.61 L674.60 364.59 L674.65 357.55 L675.10 361.04 L675.55 370.07 L676.00 375.72 L676.40 373.04 L676.45 373.78 L676.90 370.08 L677.35 366.01 L677.70 360.77 L677.80 360.08 L678.25 367.82 L678.70 366.97 L679.00 372.64 L679.15 375.14 L679.60 378.68 L680.05 387.65 L680.50 387.19 L680.95 386.97 L681.40 380.19 L681.85 377.03 L682.10 379.43 L682.30 377.47 L682.75 371.24 L683.20 370.75 L683.65 366.78 L684.10 363.46 L684.50 365.79 L684.55 358.48 L685.00 358.02 L685.45 354.60 L685.90 349.56 L686.35 345.03 L686.40 351.51 L686.80 350.86 L687.25 352.61 L687.70 355.76 L688.15 358.89 L688.40 357.05 L688.60 362.04 L689.05 356.19 L689.50 363.62 L689.95 359.86 L690.40 365.84 L690.80 372.15 L690.85 369.29 L691.30 381.49 L691.60 390.43 L691.75 387.26 L692.20 381.70 L692.65 374.61 L693.10 376.71 L693.20 373.55 L693.55 373.09 L694.00 367.88 L694.45 375.08 L694.90 369.23 L695.35 375.99 L695.60 370.50 L695.80 381.13 L696.25 367.57 L696.70 376.43 L697.15 373.60 L697.60 363.60 L697.90 368.75 L698.05 375.04 L698.50 378.56 L698.95 375.27 L699.40 383.39 L699.50 381.28 L699.85 379.66 L700.30 374.44 L700.75 376.56 L701.10 368.45 L701.20 367.46 L701.65 373.31 L702.10 386.58 L702.55 393.61 L702.70 388.56 L703.00 395.45 L703.45 380.55 L703.90 376.19 L704.30 374.35 L704.35 378.45 L704.80 368.48 L705.25 368.18 L705.70 369.70 L706.15 365.96 L706.60 367.22 L707.05 367.17 L707.50 365.00 L707.95 366.82 L708.30 367.98 L708.40 364.56 L708.85 367.38 L709.30 350.01 L709.75 349.47 L710.10 356.43 L710.20 352.94 L710.65 351.01 L711.10 357.93 L711.55 364.00 L712.00 360.82 L712.20 365.96 L712.45 363.13 L712.90 363.61 L713.35 364.12 L713.80 368.51 L714.25 360.84 L714.50 363.49 L714.70 366.90 L715.15 358.69 L715.60 354.78 L716.05 359.39 L716.50 354.96 L716.90 353.26 L716.95 354.21 L717.40 349.77 L717.85 362.92 L718.30 348.95 L718.75 350.68 L719.00 347.20 L719.20 352.20 L719.65 368.63 L720.10 371.24 L720.55 375.78 L721.00 374.11 L721.45 383.77 L721.90 379.10 L722.35 374.67 L722.50 381.77 L722.80 377.34 L723.25 379.05 L723.70 375.71 L724.00 375.70 L724.15 375.60 L724.60 375.98 L725.05 379.55 L725.50 391.84 L725.60 388.10 L725.95 389.22 L726.40 385.25 L726.85 377.78 L727.30 378.06 L727.75 385.10 L728.00 376.33 L728.20 376.80 L728.65 370.46 L729.10 370.99 L729.55 369.03 L730.00 367.78 L730.40 367.71 L730.45 365.76 L730.90 366.42 L731.35 369.33 L731.80 371.61 L732.25 370.89 L732.70 377.86 L733.15 371.87 L733.60 370.10 L734.05 365.00 L734.50 368.38 L734.95 358.80 L735.10 356.00 L735.40 356.63 L735.85 359.29 L736.30 350.32 L736.75 357.00 L737.00 352.08 L737.20 346.95 L737.65 352.38 L738.10 361.10 L738.55 354.03 L739.00 354.91 L739.10 361.84 L739.45 367.08 L739.90 370.40 L740.35 370.72 L740.70 376.51 L740.80 378.20 L741.25 388.20 L741.70 398.68 L742.15 394.43 L742.20 399.40 L742.60 392.26 L743.05 391.66 L743.50 381.68 L743.80 379.58 L743.95 382.50 L744.40 373.95 L744.85 376.14 L745.30 367.52 L745.75 367.15 L745.90 366.06 L746.20 364.33 L746.65 364.78 L747.10 367.09 L747.55 373.37 L748.00 357.79 L748.45 362.72 L748.60 361.03 L748.90 359.00 L749.35 365.60 L749.80 364.92 L750.25 371.13 L750.70 378.14 L751.00 367.28 L751.15 375.20 L751.60 375.66 L752.05 370.35 L752.50 375.09 L752.95 374.13 L753.40 371.53 L753.85 377.33 L754.30 369.44 L754.75 377.64 L755.20 376.23 L755.65 375.15 L755.70 378.43 L756.10 380.36 L756.55 388.81 L757.00 385.61 L757.45 394.46 L757.90 396.14 L758.10 403.55 L758.35 393.62 L758.80 398.25 L759.25 384.00 L759.70 386.95 L760.15 382.28 L760.40 383.56 L760.60 379.99 L761.05 377.35 L761.50 381.55 L761.95 394.52 L762.40 392.97 L762.80 390.00 L762.85 396.12 L763.30 386.84 L763.75 379.90 L764.20 371.02 L764.65 375.09 L764.70 377.67 L765.10 366.65 L765.55 370.50 L766.00 372.53 L766.45 376.11 L766.90 359.69 L767.10 368.18 L767.35 369.15 L767.80 359.31 L768.25 362.80 L768.70 358.87 L769.15 356.96 L769.60 347.76 L770.05 346.63 L770.50 339.27 L770.95 341.45 L771.10 339.72 L771.40 338.80 L771.85 339.19 L772.30 355.15 L772.70 357.25 L772.75 356.84 L773.20 354.94 L773.65 359.45 L774.10 369.72 L774.55 369.38 L775.00 366.29 L775.45 371.79 L775.90 374.50 L776.35 375.44 L776.80 374.46 L777.25 383.00 L777.40 380.74 L777.70 376.07 L778.15 364.45 L778.60 362.68 L778.70 364.47 L779.05 369.17 L779.50 371.25 L779.95 386.76 L780.30 393.49 L780.40 396.29 L780.60 400.63 L780.85 403.70 L781.30 389.09 L781.75 377.92 L782.20 371.98 L782.65 375.69 L783.10 370.78 L783.55 366.77 L784.00 379.06 L784.45 371.92 L784.50 369.91 L784.90 370.19 L785.35 367.18 L785.80 375.26 L786.25 375.54 L786.70 380.85 L786.90 379.50 L787.15 379.10 L787.60 381.25 L788.05 376.60 L788.50 376.68 L788.95 378.48 L789.30 374.40 L789.40 378.19 L789.85 375.57 L790.30 375.24 L790.75 368.26 L791.20 357.36 L791.60 361.49 L791.65 366.12 L792.10 352.93 L792.55 355.21 L793.00 356.61 L793.45 350.62 L793.90 351.93 L794.00 353.70 L794.35 347.45 L794.80 350.90 L795.25 349.16 L795.70 341.71 L796.10 345.72 L796.15 349.44 L796.60 347.73 L797.05 355.46 L797.50 362.68 L797.95 364.98 L798.00 369.68 L798.40 371.22 L798.85 370.42 L799.30 378.54 L799.60 380.38 L799.75 380.04 L800.20 373.24 L800.65 374.15 L801.10 374.17 L801.55 367.77 L801.90 370.42 L802.00 370.89 L802.45 367.64 L802.90 372.78 L803.35 372.54 L803.80 379.89 L804.25 377.07 L804.30 375.48 L804.70 376.02 L805.15 372.12 L805.60 368.90 L806.05 364.69 L806.50 356.18 L806.70 357.63 L806.95 361.20 L807.40 361.75 L807.85 360.63 L808.30 369.92 L808.75 365.12 L809.00 361.27 L809.20 364.97 L809.65 372.27 L810.10 375.51 L810.55 372.63 L810.60 379.30 L811.00 380.48 L811.45 389.07 L811.90 376.21 L812.35 388.78 L812.80 383.20 L813.00 387.05 L813.25 382.61 L813.70 383.25 L814.15 384.97 L814.60 379.35 L815.05 380.80 L815.50 375.20 L815.95 373.05 L816.20 373.56 L816.40 373.11 L816.85 378.68 L817.30 389.83 L817.75 385.71 L817.80 384.32 L818.20 392.47 L818.65 400.82 L819.10 400.03 L819.30 401.18 L819.55 400.35 L820.00 390.10 L820.45 388.07 L820.90 373.17 L821.35 376.52 L821.70 379.69 L821.80 372.18 L822.25 372.04 L822.70 377.77 L823.15 386.58 L823.60 392.86 L824.05 399.23 L824.10 395.20 L824.50 384.28 L824.95 379.61 L825.40 385.69 L825.85 386.11 L826.30 374.30 L826.50 377.30 L826.75 376.67 L827.20 376.89 L827.65 374.78 L828.10 375.93 L828.55 376.57 L829.00 371.85 L829.45 372.88 L829.60 376.77 L829.90 365.29 L830.35 363.85 L830.80 367.93 L831.25 371.17 L831.70 363.64 L832.00 365.65 L832.15 360.01 L832.60 361.23 L833.05 352.22 L833.50 353.58 L833.95 350.78 L834.10 350.65 L834.40 354.65 L834.85 356.10 L835.30 353.99 L835.60 361.89 L835.75 354.37 L836.20 369.94 L836.65 383.45 L836.90 379.69 L837.10 383.10 L837.55 391.01 L838.00 402.01 L838.40 400.59 L838.45 404.40 L838.90 391.96 L839.35 377.62 L839.70 374.54 L839.80 374.08 L840.25 372.60 L840.70 393.53 L841.15 393.93 L841.60 390.69 L842.05 397.48 L842.50 387.18 L842.95 381.57 L843.40 380.41 L843.85 379.58 L844.30 383.16 L844.75 404.45 L845.20 412.22 L845.30 415.15 L845.65 406.09 L846.10 398.12 L846.55 388.58 L847.00 376.88 L847.20 375.17 L847.45 375.65 L847.90 369.28 L848.35 376.85 L848.80 367.30 L849.00 370.56 L849.25 374.57 L849.70 399.31 L850.15 429.72 L850.40 436.67 L850.60 424.56 L851.00 382.47 L851.05 378.87 L851.50 384.25 L851.95 377.66 L852.20 383.70 L852.40 386.03 L852.85 388.12 L853.30 384.33 L853.75 385.23 L854.20 397.89 L854.65 391.00 L854.70 387.03 L855.10 386.55 L855.55 385.66 L856.00 383.46 L856.45 374.41 L856.50 378.26 L856.90 372.35 L857.35 370.72 L857.80 370.32 L858.25 363.60 L858.70 364.17 L859.15 360.11 L859.30 358.69 L859.60 362.08 L860.05 355.13 L860.50 356.73 L860.95 352.70 L861.20 354.99 L861.40 354.14 L861.85 365.22 L862.30 369.45 L862.75 376.03 L863.10 383.54 L863.20 367.52 L863.65 371.16 L864.10 361.01 L864.55 366.36 L865.00 366.04 L865.45 366.80 L865.90 365.62 L866.35 361.86 L866.80 371.38 L867.25 366.75 L867.70 365.31 L867.80 362.43 L868.15 371.28 L868.60 378.23 L869.05 389.63 L869.50 398.58 L869.60 398.89 L869.95 393.42 L870.40 394.66 L870.85 379.66 L871.30 374.33 L871.50 378.68 L871.75 379.37 L872.20 386.44 L872.65 394.51 L873.10 403.86 L873.40 403.61 L873.55 399.32 L874.00 401.54 L874.45 385.83 L874.90 379.98 L875.30 380.13 L875.35 377.66 L875.80 387.48 L876.25 373.66 L876.70 376.80 L877.15 380.58 L877.60 385.70 L878.05 380.39 L878.10 376.25 L878.50 385.05 L878.95 377.21 L879.40 378.91 L879.85 381.81 L880.30 375.64 L880.75 375.99 L880.90 379.25 L881.20 380.71 L881.65 398.52 L882.10 414.41 L882.55 432.37 L882.80 431.71 L883.00 420.07 L883.45 391.91 L883.50 386.62 L883.90 390.16 L884.35 387.58 L884.60 392.32 L884.80 392.27 L885.25 388.85 L885.70 396.33 L886.15 392.67 L886.50 395.51 L886.60 391.57 L887.05 409.07 L887.50 421.92 L887.95 433.25 L888.40 434.23 L888.85 388.89 L889.00 384.29 L889.30 373.73 L889.70 372.75 L889.75 372.88 L890.20 409.16 L890.65 467.81 L890.80 460.37 L891.10 449.48 L891.50 419.71 L891.55 414.62 L892.00 433.77 L892.10 435.43 L892.45 416.82 L892.90 381.95 L893.00 384.69 L893.35 387.04 L893.80 384.18 L894.25 390.25 L894.50 388.02" stroke="#000" stroke-width="1.2" fill="none" stroke-linejoin="round" shape-rendering="crispEdges"/>
<path d="M117.90 213.50 L118.35 214.52 L118.80 215.12 L119.25 215.41 L119.70 215.49 L119.90 215.50 L120.15 215.33 L120.60 214.40 L121.05 213.23 L121.20 212.90 L121.50 212.32 L121.95 211.50 L122.40 210.64 L122.85 209.65 L123.10 209.00 L123.30 208.30 L123.75 205.99 L124.20 203.55 L124.65 202.02 L124.80 201.90 L125.10 202.52 L125.55 204.54 L125.70 205.10 L126.00 206.11 L126.45 207.73 L126.90 209.06 L127.35 209.69 L127.40 209.70 L127.80 209.02 L128.25 207.36 L128.70 205.99 L128.90 205.80 L129.15 205.82 L129.60 205.91 L130.05 206.05 L130.50 206.20 L130.95 206.33 L131.40 206.40 L131.50 206.40 L131.85 206.39 L132.30 206.36 L132.75 206.30 L133.20 206.23 L133.65 206.13 L134.10 206.01 L134.55 205.88 L134.80 205.80 L135.00 205.69 L135.45 205.16 L135.90 204.41 L136.35 203.60 L136.80 202.91 L137.25 202.53 L137.40 202.50 L137.70 202.72 L138.15 203.59 L138.60 204.50 L139.05 205.31 L139.50 206.17 L139.95 206.82 L140.30 207.00 L140.40 206.94 L140.85 205.44 L141.30 202.85 L141.75 200.37 L142.10 199.30 L142.20 199.16 L142.65 198.59 L143.10 198.12 L143.55 197.74 L144.00 197.50 L144.45 197.40 L144.50 197.40 L144.90 197.40 L145.35 197.40 L145.80 197.40 L146.25 197.40 L146.40 197.40 L146.70 197.31 L147.15 196.87 L147.60 196.14 L148.05 195.18 L148.50 194.09 L148.95 192.93 L149.00 192.80 L149.40 191.20 L149.85 188.58 L150.30 185.92 L150.75 184.12 L151.00 183.80 L151.20 184.41 L151.65 188.87 L152.10 194.51 L152.50 197.40 L152.55 197.52 L153.00 198.44 L153.45 199.07 L153.90 199.30 L154.35 197.43 L154.80 193.55 L155.25 190.24 L155.50 189.60 L155.70 189.64 L156.15 189.95 L156.60 190.40 L157.05 190.78 L157.40 190.90 L157.50 190.88 L157.95 190.29 L158.40 189.25 L158.85 188.21 L159.30 187.62 L159.40 187.60 L159.75 187.66 L160.20 187.87 L160.65 188.11 L161.10 188.28 L161.30 188.30 L161.55 188.05 L162.00 186.67 L162.45 184.75 L162.90 183.10 L163.30 182.50 L163.35 182.50 L163.80 182.88 L164.25 183.64 L164.70 184.45 L165.15 184.97 L165.20 185.00 L165.60 185.18 L166.05 185.35 L166.50 185.50 L166.95 185.61 L167.40 185.68 L167.80 185.70 L167.85 185.70 L168.30 185.45 L168.75 184.88 L169.20 184.09 L169.65 183.20 L169.70 183.10 L170.10 181.96 L170.55 180.23 L171.00 178.60 L171.45 177.06 L171.90 175.49 L172.35 174.33 L172.70 174.00 L172.80 174.03 L173.25 174.87 L173.70 176.27 L174.15 177.51 L174.50 177.90 L174.60 177.81 L175.05 175.95 L175.50 174.09 L175.60 174.00 L175.95 174.53 L176.40 176.26 L176.85 178.30 L177.30 179.72 L177.50 179.90 L177.75 179.56 L178.20 177.58 L178.65 174.52 L179.10 171.19 L179.55 168.40 L180.00 166.96 L180.10 166.90 L180.45 167.34 L180.90 168.82 L181.35 170.70 L181.80 172.28 L182.00 172.70 L182.25 173.08 L182.70 173.71 L183.15 174.24 L183.60 174.59 L184.00 174.70 L184.05 174.69 L184.50 174.25 L184.95 173.40 L185.40 172.55 L185.85 172.11 L185.90 172.10 L186.30 172.22 L186.75 172.58 L187.20 173.05 L187.65 173.52 L188.10 173.88 L188.50 174.00 L188.55 173.99 L189.00 173.43 L189.45 172.21 L189.90 170.71 L190.35 169.29 L190.50 168.90 L190.80 168.12 L191.25 166.80 L191.70 165.45 L192.15 164.26 L192.60 163.38 L193.05 163.00 L193.10 163.00 L193.50 163.38 L193.95 164.39 L194.40 165.52 L194.85 166.24 L195.00 166.30 L195.30 166.25 L195.75 166.03 L196.20 165.68 L196.65 165.24 L197.10 164.78 L197.55 164.34 L197.60 164.30 L198.00 163.99 L198.45 163.66 L198.90 163.25 L199.35 162.66 L199.50 162.40 L199.80 160.90 L200.25 156.81 L200.70 153.83 L200.80 153.70 L201.15 153.73 L201.60 153.84 L202.05 154.04 L202.50 154.31 L202.95 154.67 L203.10 154.80 L203.40 155.62 L203.85 158.29 L204.30 161.47 L204.75 163.85 L204.80 164.00 L205.20 165.12 L205.65 166.19 L206.10 166.82 L206.30 166.90 L206.55 166.36 L207.00 163.59 L207.45 160.46 L207.70 159.40 L207.90 158.97 L208.35 158.32 L208.80 157.72 L209.10 157.10 L209.25 156.53 L209.70 153.31 L210.15 149.64 L210.60 147.90 L211.05 149.09 L211.50 151.65 L211.95 154.04 L212.30 154.80 L212.40 154.71 L212.85 152.65 L213.30 149.75 L213.70 148.50 L213.75 148.50 L214.20 148.58 L214.65 148.76 L215.10 149.03 L215.20 149.10 L215.55 150.14 L216.00 152.91 L216.45 155.78 L216.90 157.10 L217.35 156.45 L217.80 154.98 L218.25 153.38 L218.60 152.50 L218.70 152.33 L219.15 151.65 L219.60 151.06 L220.05 150.55 L220.50 150.09 L220.90 149.70 L220.95 149.65 L221.40 149.19 L221.85 148.71 L222.30 148.25 L222.75 147.85 L223.20 147.56 L223.65 147.41 L223.80 147.40 L224.10 147.49 L224.55 147.85 L225.00 148.27 L225.45 148.50 L225.50 148.50 L225.90 148.31 L226.35 147.75 L226.80 146.95 L227.25 146.06 L227.70 145.26 L227.80 145.10 L228.15 144.63 L228.60 144.04 L229.00 143.30 L229.05 143.17 L229.50 140.76 L229.95 138.42 L230.10 138.20 L230.40 138.62 L230.85 140.20 L231.30 141.78 L231.60 142.20 L231.75 142.14 L232.20 141.44 L232.65 140.32 L233.10 139.25 L233.55 138.71 L233.60 138.70 L234.00 138.87 L234.45 139.35 L234.90 139.97 L235.30 140.50 L235.35 140.56 L235.80 141.23 L236.25 141.96 L236.70 142.57 L237.00 142.80 L237.15 142.86 L237.60 142.99 L238.05 143.07 L238.50 143.18 L238.80 143.30 L238.95 143.45 L239.40 144.60 L239.85 146.14 L240.30 147.25 L240.50 147.40 L240.75 146.67 L241.20 142.99 L241.65 138.95 L242.00 137.60 L242.10 137.63 L242.55 138.39 L243.00 139.58 L243.45 140.43 L243.60 140.50 L243.90 140.25 L244.35 139.12 L244.80 137.45 L245.25 135.64 L245.70 134.10 L246.15 132.61 L246.60 131.10 L247.05 130.17 L247.20 130.10 L247.50 130.78 L247.95 133.31 L248.40 135.58 L248.60 135.90 L248.85 135.70 L249.30 134.61 L249.75 133.26 L250.20 132.43 L250.30 132.40 L250.65 133.22 L251.10 135.82 L251.55 138.60 L252.00 139.90 L252.45 138.10 L252.90 134.24 L253.35 130.64 L253.70 129.50 L253.80 129.51 L254.25 129.85 L254.70 130.50 L255.15 131.26 L255.50 131.80 L255.60 131.95 L256.05 132.81 L256.50 133.66 L256.95 134.09 L257.00 134.10 L257.40 132.02 L257.85 127.44 L258.30 124.90 L258.75 127.14 L259.20 131.42 L259.65 134.07 L259.70 134.10 L260.10 133.21 L260.55 131.04 L261.00 129.25 L261.20 129.00 L261.45 129.33 L261.90 131.10 L262.35 133.30 L262.80 134.64 L262.90 134.70 L263.25 134.50 L263.70 133.72 L264.15 132.52 L264.60 131.05 L264.70 130.70 L265.05 128.47 L265.50 123.86 L265.95 119.40 L266.40 117.40 L266.85 118.86 L267.30 122.07 L267.75 125.23 L267.80 125.50 L268.20 127.90 L268.65 130.24 L268.90 130.70 L269.10 130.48 L269.55 128.86 L270.00 126.91 L270.40 126.10 L270.45 126.12 L270.90 127.58 L271.35 130.06 L271.80 131.73 L271.90 131.80 L272.25 131.34 L272.70 129.78 L273.15 127.81 L273.30 127.20 L273.60 125.63 L274.05 122.95 L274.40 122.00 L274.50 122.02 L274.95 122.54 L275.40 123.54 L275.85 124.70 L276.20 125.50 L276.30 125.71 L276.75 126.87 L277.20 128.11 L277.65 129.10 L278.10 129.50 L278.55 128.01 L279.00 124.93 L279.45 122.38 L279.60 122.00 L279.90 121.62 L280.35 121.17 L280.80 120.82 L281.25 120.56 L281.70 120.37 L281.90 120.30 L282.15 120.22 L282.60 120.08 L283.05 119.95 L283.50 119.85 L283.95 119.77 L284.40 119.72 L284.80 119.70 L284.85 119.70 L285.30 119.70 L285.75 119.70 L286.20 119.70 L286.65 119.70 L287.10 119.70 L287.55 119.58 L288.00 119.26 L288.45 118.77 L288.90 118.16 L289.35 117.48 L289.40 117.40 L289.80 116.23 L290.25 114.21 L290.70 112.38 L291.10 111.70 L291.15 111.71 L291.60 112.34 L292.05 113.75 L292.50 115.62 L292.90 117.40 L292.95 117.64 L293.40 121.10 L293.85 124.85 L294.20 126.10 L294.30 126.08 L294.75 125.47 L295.20 124.27 L295.65 122.77 L295.70 122.60 L296.10 120.14 L296.55 116.29 L297.00 113.81 L297.10 113.70 L297.45 114.02 L297.90 114.88 L298.30 115.40 L298.35 115.42 L298.80 115.55 L299.25 115.62 L299.70 115.70 L300.00 115.80 L300.15 115.90 L300.60 116.62 L301.05 117.62 L301.50 118.53 L301.70 118.80 L301.95 119.07 L302.40 119.54 L302.85 119.91 L303.30 120.09 L303.40 120.10 L303.75 119.51 L304.20 117.63 L304.65 115.59 L304.70 115.40 L305.10 113.68 L305.55 111.71 L306.00 110.80 L306.45 112.26 L306.90 114.68 L307.20 115.40 L307.35 115.38 L307.80 115.07 L308.25 114.54 L308.50 114.20 L308.70 113.76 L309.15 112.35 L309.40 112.00 L309.60 112.25 L310.05 114.04 L310.50 116.21 L310.90 117.10 L310.95 117.08 L311.40 115.68 L311.85 113.09 L312.30 110.80 L312.75 108.99 L313.20 107.59 L313.40 107.40 L313.65 108.02 L314.10 110.96 L314.40 112.90 L314.55 113.71 L315.00 116.47 L315.45 119.07 L315.90 120.70 L316.10 120.90 L316.35 120.45 L316.80 117.98 L317.25 114.71 L317.40 113.70 L317.70 111.24 L318.15 107.14 L318.50 105.70 L318.60 105.78 L319.05 107.67 L319.50 110.80 L319.95 116.64 L320.40 120.90 L320.85 115.76 L321.20 110.30 L321.30 109.23 L321.75 104.32 L322.20 101.90 L322.65 102.92 L323.10 104.92 L323.30 105.70 L323.55 106.55 L324.00 108.08 L324.45 109.57 L324.90 110.92 L325.00 111.20 L325.35 112.20 L325.80 113.56 L326.25 114.91 L326.70 116.14 L327.15 117.14 L327.60 117.79 L328.00 118.00 L328.05 117.99 L328.50 116.92 L328.95 114.61 L329.40 111.74 L329.85 109.01 L330.10 107.80 L330.30 106.87 L330.75 104.83 L331.00 104.40 L331.20 104.41 L331.65 104.53 L332.10 104.74 L332.20 104.80 L332.55 105.37 L333.00 106.81 L333.45 108.44 L333.50 108.60 L333.90 110.01 L334.35 111.77 L334.80 113.56 L335.25 115.22 L335.60 116.30 L335.70 116.58 L336.15 117.93 L336.60 119.16 L337.05 119.96 L337.30 120.10 L337.50 119.31 L337.95 114.13 L338.20 111.20 L338.40 109.01 L338.85 103.76 L339.20 101.90 L339.30 101.98 L339.75 103.69 L340.20 106.09 L340.30 106.50 L340.65 107.75 L341.10 109.27 L341.55 110.68 L342.00 112.00 L342.45 113.44 L342.90 114.91 L343.35 115.99 L343.70 116.30 L343.80 116.29 L344.25 115.93 L344.70 115.21 L345.15 114.28 L345.60 113.30 L345.80 112.90 L346.05 112.41 L346.50 111.51 L346.95 110.50 L347.40 109.35 L347.85 107.97 L347.90 107.80 L348.30 105.64 L348.75 102.40 L349.20 100.01 L349.40 99.70 L349.65 100.38 L350.10 103.69 L350.50 106.50 L350.55 106.74 L351.00 108.67 L351.45 110.36 L351.90 111.90 L352.20 112.90 L352.35 113.43 L352.80 115.18 L353.25 116.93 L353.70 118.36 L354.15 119.14 L354.30 119.20 L354.60 118.50 L355.05 115.60 L355.50 112.00 L355.95 106.80 L356.40 101.73 L356.60 101.00 L356.85 101.06 L357.30 101.42 L357.70 101.90 L357.75 101.97 L358.20 103.18 L358.65 104.99 L359.10 106.84 L359.40 107.80 L359.55 108.19 L360.00 109.30 L360.45 110.33 L360.90 111.29 L361.35 112.17 L361.80 113.00 L362.25 113.75 L362.70 114.45 L362.80 114.60 L363.15 115.14 L363.60 115.86 L364.05 116.50 L364.50 116.95 L364.90 117.10 L364.95 117.05 L365.40 113.43 L365.70 110.30 L365.85 108.93 L366.30 104.16 L366.75 100.40 L367.00 99.70 L367.20 100.03 L367.65 102.53 L368.10 106.01 L368.30 107.40 L368.55 109.09 L369.00 112.35 L369.45 115.16 L369.50 115.40 L369.90 117.36 L370.35 119.28 L370.80 120.10 L371.25 118.69 L371.70 115.65 L372.15 112.74 L372.20 112.50 L372.60 110.51 L373.05 108.30 L373.50 106.88 L373.70 106.70 L373.95 106.94 L374.40 108.15 L374.85 109.36 L375.10 109.60 L375.30 109.30 L375.75 107.02 L376.20 103.96 L376.65 101.87 L376.80 101.70 L377.10 102.29 L377.55 104.90 L378.00 108.59 L378.45 112.27 L378.70 113.90 L378.90 115.09 L379.35 118.02 L379.80 120.79 L380.25 122.75 L380.60 123.30 L380.70 123.23 L381.15 121.44 L381.60 118.19 L382.05 114.74 L382.30 113.20 L382.50 112.11 L382.95 109.41 L383.40 106.68 L383.85 104.25 L384.30 102.48 L384.75 101.71 L384.80 101.70 L385.20 102.34 L385.65 104.23 L386.10 106.77 L386.55 109.34 L386.60 109.60 L387.00 112.10 L387.45 115.66 L387.90 119.54 L388.35 123.23 L388.80 126.22 L389.25 128.01 L389.50 128.30 L389.70 127.93 L390.15 125.04 L390.60 120.82 L390.90 118.20 L391.05 116.93 L391.50 112.22 L391.95 107.37 L392.40 103.90 L392.70 103.10 L392.85 103.11 L393.30 103.19 L393.75 103.36 L394.20 103.60 L394.50 103.80 L394.65 103.96 L395.10 105.03 L395.55 106.78 L396.00 108.95 L396.45 111.25 L396.70 112.50 L396.90 113.58 L397.35 116.65 L397.80 120.36 L398.25 124.33 L398.70 128.23 L399.15 131.70 L399.60 134.39 L400.05 135.95 L400.30 136.20 L400.50 135.40 L400.95 129.37 L401.40 121.19 L401.70 116.80 L401.85 115.04 L402.30 109.36 L402.75 104.00 L403.20 100.10 L403.60 98.80 L403.65 98.81 L404.10 99.84 L404.55 102.07 L405.00 104.86 L405.30 106.70 L405.45 107.61 L405.90 110.72 L406.35 114.30 L406.80 118.22 L407.25 122.36 L407.70 126.57 L408.15 130.74 L408.20 131.20 L408.60 135.64 L409.05 141.38 L409.50 146.04 L409.90 147.70 L409.95 147.64 L410.40 142.40 L410.85 132.38 L411.30 122.69 L411.40 121.10 L411.75 115.70 L412.20 108.54 L412.65 102.64 L413.10 99.62 L413.20 99.50 L413.55 100.06 L414.00 102.13 L414.45 105.21 L414.90 108.73 L415.35 112.15 L415.40 112.50 L415.80 115.46 L416.25 119.17 L416.70 123.13 L417.15 127.19 L417.60 131.19 L418.05 134.96 L418.30 136.90 L418.50 138.50 L418.95 142.53 L419.40 146.39 L419.85 149.13 L420.20 149.90 L420.30 149.76 L420.75 146.27 L421.20 139.47 L421.65 131.26 L421.90 126.80 L422.10 122.54 L422.55 109.50 L423.00 98.07 L423.30 95.20 L423.45 95.34 L423.90 97.15 L424.35 100.48 L424.80 104.52 L425.20 108.10 L425.25 108.53 L425.70 112.93 L426.15 118.07 L426.60 123.60 L427.05 129.16 L427.50 134.41 L427.60 135.50 L427.95 139.62 L428.40 145.55 L428.85 151.45 L429.30 156.47 L429.75 159.81 L430.10 160.70 L430.20 160.53 L430.65 156.14 L431.10 147.79 L431.55 138.10 L432.00 129.70 L432.45 121.78 L432.90 113.31 L433.35 106.56 L433.80 103.80 L434.25 105.35 L434.70 109.08 L435.15 113.61 L435.50 116.80 L435.60 117.60 L436.05 121.15 L436.50 124.70 L436.95 128.31 L437.40 132.06 L437.85 136.01 L438.30 140.22 L438.40 141.20 L438.75 145.51 L439.20 152.36 L439.65 158.59 L440.10 161.97 L440.20 162.10 L440.55 160.66 L441.00 155.37 L441.45 147.60 L441.90 138.86 L442.35 130.66 L442.50 128.30 L442.80 123.09 L443.25 114.34 L443.70 108.19 L443.90 107.40 L444.15 107.90 L444.60 110.81 L445.05 115.28 L445.50 120.10 L445.60 121.10 L445.95 124.88 L446.40 130.53 L446.85 136.51 L447.30 142.22 L447.50 144.50 L447.75 147.38 L448.20 153.05 L448.65 158.78 L449.10 163.90 L449.55 167.70 L450.00 169.53 L450.10 169.60 L450.45 168.40 L450.90 163.94 L451.35 157.29 L451.80 149.61 L452.25 142.09 L452.70 135.90 L453.15 130.18 L453.60 124.04 L454.05 118.63 L454.50 115.08 L454.80 114.30 L454.95 114.49 L455.40 116.89 L455.85 121.02 L456.30 125.53 L456.50 127.30 L456.75 129.51 L457.20 134.14 L457.65 139.34 L458.10 144.76 L458.55 150.07 L459.00 154.93 L459.45 158.99 L459.90 161.93 L460.35 163.40 L460.50 163.50 L460.80 163.30 L461.25 162.34 L461.70 160.72 L462.15 158.60 L462.60 156.14 L463.05 153.50 L463.10 153.20 L463.50 149.51 L463.95 143.11 L464.40 135.72 L464.85 128.79 L465.30 123.77 L465.70 122.10 L465.75 122.13 L466.20 124.76 L466.65 130.13 L467.10 136.11 L467.40 139.40 L467.55 140.81 L468.00 145.40 L468.45 150.26 L468.90 155.06 L469.35 159.47 L469.80 163.14 L470.25 165.75 L470.70 166.96 L470.80 167.00 L471.15 166.78 L471.60 165.93 L472.05 164.52 L472.50 162.68 L472.95 160.52 L473.40 158.14 L473.85 155.67 L474.30 153.20 L474.75 149.79 L475.20 145.19 L475.65 140.57 L476.10 137.09 L476.50 135.90 L476.55 135.92 L477.00 137.34 L477.45 140.54 L477.90 144.75 L478.35 149.20 L478.60 151.50 L478.80 153.45 L479.25 158.99 L479.70 165.32 L480.15 171.43 L480.60 176.29 L481.05 178.91 L481.20 179.10 L481.50 178.46 L481.95 175.89 L482.40 172.93 L482.85 171.32 L482.90 171.30 L483.30 171.44 L483.75 171.81 L484.20 172.22 L484.65 172.48 L484.80 172.50 L485.10 171.77 L485.55 168.47 L486.00 163.53 L486.45 158.08 L486.90 153.26 L487.35 150.21 L487.60 149.70 L487.80 149.86 L488.25 151.27 L488.70 153.81 L489.15 157.11 L489.60 160.77 L490.05 164.42 L490.40 167.00 L490.50 167.72 L490.95 171.59 L491.40 176.10 L491.85 180.69 L492.30 184.80 L492.75 187.87 L493.20 189.34 L493.30 189.40 L493.65 188.99 L494.10 187.47 L494.55 185.23 L495.00 182.66 L495.45 180.18 L495.90 178.20 L496.35 176.49 L496.80 174.68 L497.25 172.97 L497.70 171.56 L498.15 170.64 L498.50 170.40 L498.60 170.40 L499.05 170.53 L499.50 170.82 L499.95 171.25 L500.40 171.79 L500.70 172.20 L500.85 172.57 L501.30 175.26 L501.75 179.65 L502.20 184.83 L502.65 189.92 L503.10 194.02 L503.55 196.23 L503.70 196.40 L504.00 196.13 L504.45 194.89 L504.90 192.94 L505.35 190.62 L505.80 188.25 L506.25 186.19 L506.70 184.76 L507.10 184.30 L507.15 184.31 L507.60 184.83 L508.05 186.02 L508.50 187.64 L508.95 189.46 L509.40 191.22 L509.85 192.68 L510.30 193.60 L510.60 193.80 L510.75 193.55 L511.20 190.57 L511.65 186.19 L512.10 182.93 L512.30 182.50 L512.55 182.77 L513.00 184.45 L513.45 187.37 L513.90 191.19 L514.35 195.55 L514.80 200.11 L515.25 204.51 L515.70 208.40 L516.15 212.78 L516.60 217.12 L517.00 218.80 L517.05 218.79 L517.50 217.59 L517.95 214.85 L518.40 211.16 L518.85 207.08 L519.30 203.20 L519.75 200.08 L520.20 198.31 L520.40 198.10 L520.65 198.28 L521.10 199.35 L521.55 201.12 L522.00 203.29 L522.20 204.30 L522.45 205.91 L522.90 209.94 L523.35 214.02 L523.40 214.40 L523.80 217.76 L524.25 221.50 L524.70 223.61 L524.80 223.70 L525.15 222.91 L525.60 220.31 L526.05 217.21 L526.30 215.80 L526.50 214.75 L526.95 212.17 L527.40 210.34 L527.60 210.10 L527.85 210.78 L528.30 214.44 L528.70 218.70 L528.75 219.25 L529.20 225.98 L529.40 228.80 L529.65 232.02 L530.10 238.01 L530.55 242.58 L530.90 243.90 L531.00 243.76 L531.45 240.51 L531.90 235.70 L532.30 233.10 L532.35 232.99 L532.80 232.29 L533.25 231.88 L533.70 231.41 L534.00 230.90 L534.15 230.42 L534.60 227.66 L535.05 224.51 L535.50 223.00 L535.95 225.24 L536.40 229.78 L536.60 231.70 L536.85 233.87 L537.30 237.96 L537.75 242.63 L537.80 243.20 L538.20 248.91 L538.65 255.79 L538.80 257.60 L539.10 261.00 L539.55 265.49 L539.90 266.90 L540.00 266.76 L540.45 263.31 L540.90 257.48 L541.35 252.22 L541.40 251.80 L541.80 248.34 L542.25 244.77 L542.70 243.20 L543.15 246.47 L543.60 252.56 L543.80 254.70 L544.05 256.77 L544.50 260.14 L544.95 263.01 L545.00 263.30 L545.40 265.74 L545.85 268.32 L546.30 269.74 L546.40 269.80 L546.75 267.91 L547.20 262.27 L547.65 257.11 L547.90 256.10 L548.10 256.40 L548.55 258.64 L549.00 261.67 L549.30 263.30 L549.45 263.97 L549.90 266.04 L550.30 266.90 L550.35 266.89 L550.80 265.85 L551.25 264.18 L551.70 263.30 L552.15 265.03 L552.60 269.04 L553.05 273.51 L553.20 274.80 L553.50 277.20 L553.95 280.87 L554.40 284.62 L554.60 286.30 L554.85 288.73 L555.30 293.83 L555.75 298.03 L556.10 299.30 L556.20 299.10 L556.65 294.85 L557.10 289.39 L557.20 288.60 L557.55 286.26 L558.00 283.50 L558.45 281.71 L558.70 281.40 L558.90 281.66 L559.35 283.67 L559.80 286.67 L560.10 288.60 L560.25 289.59 L560.70 293.41 L561.15 297.07 L561.60 298.70 L562.05 297.65 L562.50 295.65 L562.95 294.42 L563.00 294.40 L563.40 294.96 L563.85 296.64 L564.30 298.97 L564.75 301.45 L565.20 303.62 L565.65 304.97 L565.90 305.20 L566.10 304.89 L566.55 302.42 L567.00 298.66 L567.45 295.07 L567.90 293.08 L568.00 293.00 L568.35 293.61 L568.80 295.75 L569.25 298.61 L569.50 300.20 L569.70 301.48 L570.15 304.82 L570.60 308.76 L570.90 311.70 L571.05 313.59 L571.50 321.10 L571.90 324.70 L571.95 324.69 L572.40 323.77 L572.85 321.82 L573.30 319.43 L573.40 318.90 L573.75 316.28 L574.20 311.46 L574.65 306.62 L575.10 303.49 L575.30 303.10 L575.55 303.55 L576.00 306.11 L576.45 309.73 L576.70 311.70 L576.90 313.32 L577.35 317.62 L577.80 322.09 L578.10 324.70 L578.25 325.87 L578.70 329.28 L579.15 332.34 L579.60 334.80 L580.05 336.94 L580.50 338.99 L580.95 340.70 L581.40 341.77 L581.70 342.00 L581.85 341.71 L582.30 338.20 L582.75 332.99 L583.20 329.00 L583.65 326.58 L584.10 324.35 L584.55 322.65 L585.00 321.83 L585.10 321.80 L585.45 322.80 L585.90 325.94 L586.30 329.00 L586.35 329.34 L586.80 332.79 L587.25 336.50 L587.70 339.86 L587.80 340.50 L588.15 342.83 L588.60 345.77 L589.05 347.56 L589.20 347.70 L589.50 347.07 L589.95 344.42 L590.40 341.03 L590.70 339.10 L590.85 338.22 L591.30 335.20 L591.75 332.67 L592.10 331.92 L592.20 332.01 L592.65 333.25 L593.10 335.80 L593.55 338.96 L593.60 339.27 L594.00 342.68 L594.45 346.79 L594.90 350.40 L595.35 353.43 L595.40 353.32 L595.80 354.88 L596.25 356.37 L596.70 358.55 L596.90 357.35 L597.15 356.96 L597.60 355.09 L598.05 351.89 L598.30 351.73 L598.50 350.33 L598.90 356.94 L598.95 356.00 L599.40 356.33 L599.85 356.17 L600.00 352.58 L600.30 359.99 L600.75 358.13 L601.20 360.43 L601.65 358.20 L601.70 362.94 L602.10 363.02 L602.55 361.77 L603.00 363.38 L603.45 366.14 L603.50 362.49 L603.90 361.50 L604.35 367.38 L604.80 365.35 L605.20 364.90 L605.25 371.60 L605.70 368.08 L606.00 368.42 L606.15 370.03 L606.60 369.11 L607.05 371.57 L607.30 371.49 L607.50 369.07 L607.95 370.25 L608.40 371.96 L608.50 372.17 L608.85 372.95 L609.30 374.32 L609.75 373.98 L610.20 376.48 L610.40 374.66 L610.65 377.58 L611.10 386.50 L611.55 378.15 L612.00 385.53 L612.45 394.17 L612.90 379.55 L613.00 389.74 L613.35 380.79 L613.80 388.62 L614.10 393.26 L614.25 393.18 L614.70 386.87 L615.15 386.52 L615.50 386.82 L615.60 393.51 L616.05 391.61 L616.50 394.30 L616.95 395.98 L617.10 396.51 L617.40 396.15 L617.85 391.81 L618.30 382.49 L618.75 388.06 L619.20 373.91 L619.65 387.24 L620.10 384.73 L620.55 388.88 L620.70 388.57 L621.00 389.99 L621.45 392.19 L621.90 392.52 L622.20 390.93 L622.35 397.23 L622.80 394.24 L623.25 401.53 L623.70 399.23 L623.80 398.20 L624.15 405.37 L624.60 415.08 L625.05 431.04 L625.50 459.55 L625.80 472.09 L625.95 464.21 L626.40 457.24 L626.85 448.96 L627.20 436.97 L627.30 431.34 L627.75 424.42 L628.20 421.04 L628.65 413.81 L629.10 408.62 L629.20 407.48 L629.55 401.25 L630.00 405.45 L630.45 405.63 L630.90 399.12 L631.35 403.42 L631.80 399.22 L631.90 400.88 L632.25 402.77 L632.70 401.59 L633.15 415.44 L633.30 409.85 L633.60 414.40 L634.05 416.18 L634.50 421.81 L634.95 424.75 L635.40 427.20 L635.85 436.15 L635.90 433.37 L636.30 440.87 L636.75 448.76 L637.20 466.54 L637.30 466.95 L637.65 455.47 L638.10 433.06 L638.30 432.30 L638.55 431.58 L639.00 431.76 L639.45 428.01 L639.90 420.78 L640.30 421.19 L640.35 415.86 L640.80 414.06 L641.25 406.49 L641.30 403.49 L641.70 407.17 L642.15 412.46 L642.60 417.42 L642.70 424.39 L643.05 432.85 L643.50 429.39 L643.95 434.02 L644.40 437.11 L644.85 453.44 L645.30 489.56 L645.75 504.73 L646.00 511.32 L646.20 508.83 L646.65 503.14 L647.10 488.27 L647.55 475.52 L648.00 456.93 L648.45 447.01 L648.90 437.79 L649.35 423.51 L649.40 424.53 L649.80 494.79 L650.00 514.34 L650.25 511.08 L650.70 475.21 L651.15 456.42 L651.40 446.90 L651.60 447.44 L652.05 459.15 L652.50 468.48 L652.80 462.33 L652.95 462.89 L653.40 456.64 L653.85 444.82 L654.30 427.24 L654.75 427.89 L654.80 422.18 L655.20 414.25 L655.65 408.61 L656.10 413.50 L656.50 412.04 L656.55 403.87 L657.00 409.57 L657.45 419.34 L657.90 421.03 L658.35 432.04 L658.50 440.66 L658.80 441.47 L659.25 453.09 L659.50 452.63 L659.70 453.66 L660.15 452.24 L660.60 439.14 L661.05 429.93 L661.50 428.58 L661.95 444.92 L662.40 461.02 L662.85 481.85 L663.30 499.54 L663.50 502.39 L663.75 497.57 L664.20 470.33 L664.65 446.96 L665.10 419.55 L665.50 412.79 L665.55 406.06 L666.00 412.54 L666.45 407.30 L666.90 403.26 L667.35 412.26 L667.50 406.67 L667.80 412.59 L668.25 424.79 L668.70 446.99 L669.15 463.15 L669.60 470.08 L670.05 457.90 L670.50 427.34 L670.95 405.18 L671.30 403.91 L671.40 400.51 L671.85 407.09 L672.30 410.69 L672.75 411.46 L673.20 418.00 L673.65 421.80 L673.90 423.81 L674.10 426.47 L674.55 430.15 L675.00 432.84 L675.45 426.47 L675.90 428.44 L676.35 435.92 L676.50 434.40 L676.80 433.93 L677.25 430.00 L677.70 439.21 L678.15 448.43 L678.60 451.67 L679.00 463.62 L679.05 458.32 L679.50 463.39 L679.95 463.98 L680.40 468.66 L680.85 473.49 L681.30 475.91 L681.60 477.58 L681.75 477.81 L682.20 458.98 L682.65 437.69 L682.90 422.39 L683.10 423.31 L683.55 415.23 L684.00 411.82 L684.45 399.64 L684.90 395.49 L685.35 387.25 L685.80 387.36 L686.25 384.88 L686.70 380.72 L686.80 381.26 L687.15 382.74 L687.60 385.57 L688.05 381.95 L688.50 390.26 L688.95 389.12 L689.40 398.75 L689.85 401.68 L690.30 402.58 L690.75 410.34 L691.20 429.58 L691.65 434.96 L692.00 443.71 L692.10 443.56 L692.55 462.83 L693.00 489.68 L693.45 514.15 L693.90 531.28 L694.35 550.94 L694.60 550.33 L694.80 545.27 L695.25 540.89 L695.70 520.45 L696.15 504.42 L696.60 483.98 L697.05 477.50 L697.20 470.77 L697.50 478.06 L697.95 477.78 L698.40 490.76 L698.85 490.70 L699.30 504.37 L699.70 508.88 L699.75 508.12 L700.20 506.60 L700.65 491.50 L701.10 488.70 L701.55 477.41 L702.00 458.89 L702.30 455.18 L702.45 453.90 L702.90 450.02 L703.35 445.60 L703.80 432.89 L704.25 437.81 L704.70 431.12 L705.15 424.84 L705.60 426.90 L706.05 419.07 L706.20 422.23 L706.50 417.62 L706.95 410.50 L707.40 410.26 L707.85 404.42 L708.30 396.02 L708.75 388.78 L709.20 388.91 L709.65 390.39 L710.10 387.07 L710.55 393.69 L711.00 390.67 L711.45 392.66 L711.90 395.86 L712.35 394.64 L712.80 399.42 L713.25 399.78 L713.70 395.92 L714.00 397.90 L714.15 405.42 L714.60 400.56 L715.05 399.05 L715.50 391.68 L715.95 390.75 L716.40 391.31 L716.85 386.11 L717.30 381.99 L717.75 387.22 L717.80 382.40 L718.20 382.14 L718.65 388.71 L719.10 383.24 L719.55 394.35 L720.00 394.25 L720.45 400.66 L720.90 406.67 L721.35 414.85 L721.70 419.11 L721.80 420.98 L722.25 427.94 L722.70 440.68 L723.15 451.76 L723.60 459.26 L724.05 469.34 L724.50 474.51 L724.95 478.77 L725.40 487.38 L725.60 486.09 L725.85 487.23 L726.30 471.09 L726.75 472.00 L727.20 445.67 L727.65 436.52 L728.10 430.57 L728.20 422.31 L728.55 421.92 L729.00 414.40 L729.45 413.65 L729.90 409.99 L730.35 414.27 L730.80 413.04 L731.25 409.29 L731.70 411.94 L732.10 410.09 L732.15 405.56 L732.60 401.50 L733.05 397.26 L733.50 392.63 L733.95 394.46 L734.40 389.00 L734.70 386.79 L734.85 387.13 L735.30 389.70 L735.75 387.36 L736.20 390.26 L736.65 390.16 L737.10 395.51 L737.55 396.24 L738.00 389.90 L738.45 395.27 L738.90 399.56 L739.35 397.76 L739.80 403.32 L740.25 403.65 L740.70 406.17 L741.10 405.71 L741.15 407.02 L741.60 409.96 L742.05 406.81 L742.50 411.45 L742.95 413.71 L743.40 423.53 L743.70 419.72 L743.85 419.70 L744.30 416.09 L744.75 408.60 L745.20 401.54 L745.65 400.41 L746.10 392.63 L746.30 397.68 L746.55 392.91 L747.00 391.61 L747.45 389.79 L747.90 389.46 L748.35 389.15 L748.80 393.12 L749.25 395.20 L749.70 384.43 L750.15 388.59 L750.20 389.95 L750.60 386.53 L751.05 391.85 L751.50 399.04 L751.95 401.06 L752.40 418.49 L752.85 423.98 L753.30 429.89 L753.75 433.99 L754.00 435.07 L754.20 441.18 L754.65 433.72 L755.10 433.84 L755.55 427.36 L756.00 427.34 L756.45 422.72 L756.90 420.91 L757.35 416.95 L757.80 416.40 L757.90 420.20 L758.25 421.23 L758.70 420.96 L759.15 418.46 L759.60 422.51 L760.05 411.25 L760.50 428.00 L760.95 424.38 L761.40 426.23 L761.60 430.32 L761.85 422.72 L762.30 426.27 L762.75 415.63 L763.20 415.00 L763.65 405.78 L764.00 405.86 L764.10 410.28 L764.55 397.46 L765.00 394.46 L765.45 392.67 L765.90 392.54 L766.30 401.01 L766.35 385.68 L766.80 376.38 L767.25 380.16 L767.70 373.57 L768.15 375.78 L768.60 375.82 L769.05 368.60 L769.50 366.65 L769.95 356.46 L770.40 359.80 L770.85 351.24 L771.10 358.73 L771.30 358.87 L771.75 352.72 L772.20 359.30 L772.65 366.44 L773.10 374.84 L773.40 366.90 L773.55 375.49 L774.00 388.29 L774.45 383.56 L774.90 389.09 L775.35 392.32 L775.80 391.29 L776.25 406.22 L776.70 409.35 L777.15 414.97 L777.60 422.41 L778.05 425.34 L778.20 413.43 L778.50 423.50 L778.95 415.95 L779.40 415.78 L779.80 409.27 L779.85 408.35 L780.30 414.22 L780.75 407.51 L781.20 404.14 L781.65 402.51 L782.10 403.41 L782.20 402.95 L782.55 392.47 L783.00 399.63 L783.45 403.11 L783.90 408.24 L784.35 411.68 L784.80 401.82 L785.25 415.00 L785.30 406.70 L785.70 408.38 L786.15 403.42 L786.60 402.51 L787.05 410.93 L787.50 402.50 L787.95 401.91 L788.40 406.35 L788.85 407.54 L789.30 391.58 L789.75 395.38 L790.20 393.10 L790.65 397.75 L791.10 397.10 L791.55 382.64 L791.60 384.26 L792.00 384.04 L792.45 382.38 L792.90 372.80 L793.35 375.38 L793.80 366.08 L794.25 355.54 L794.70 360.63 L794.80 367.80 L795.15 370.76 L795.60 358.50 L796.05 362.78 L796.50 373.49 L796.95 361.23 L797.20 380.50 L797.40 383.94 L797.85 369.42 L798.30 390.44 L798.75 390.23 L799.20 401.09 L799.60 398.31 L799.65 396.19 L800.10 399.84 L800.55 405.49 L801.00 403.89 L801.45 404.73 L801.90 399.19 L802.35 408.59 L802.70 406.74 L802.80 414.88 L803.25 405.87 L803.70 404.13 L804.15 399.76 L804.60 403.59 L805.05 397.04 L805.50 392.51 L805.90 401.17 L805.95 401.77 L806.40 389.59 L806.85 384.66 L807.30 392.15 L807.75 381.57 L808.20 397.23 L808.30 383.85 L808.65 389.47 L809.10 381.61 L809.55 390.56 L810.00 398.99 L810.45 398.61 L810.60 394.75 L810.90 409.07 L811.35 402.30 L811.80 398.69 L812.25 397.66 L812.70 399.85 L813.15 407.98 L813.60 399.43 L813.80 403.64 L814.05 400.80 L814.50 413.07 L814.95 410.36 L815.40 418.83 L815.85 420.82 L816.30 417.80 L816.60 424.06 L816.75 424.99 L817.20 413.47 L817.65 418.07 L818.10 426.48 L818.55 404.73 L819.00 405.80 L819.30 395.86 L819.45 403.76 L819.90 398.46 L820.35 404.18 L820.80 400.14 L821.25 394.76 L821.70 404.83 L822.15 398.62 L822.60 394.71 L823.05 399.24 L823.30 394.32 L823.50 400.27 L823.95 397.64 L824.40 395.62 L824.85 399.64 L825.30 390.11 L825.75 399.59 L826.20 385.37 L826.50 401.29 L826.65 394.61 L827.10 391.98 L827.55 389.28 L828.00 394.55 L828.45 390.71 L828.90 389.89 L829.35 394.48 L829.60 387.23 L829.80 387.47 L830.25 388.03 L830.70 387.52 L831.15 378.00 L831.60 375.38 L832.05 371.24 L832.50 371.63 L832.80 373.88 L832.95 362.45 L833.40 364.93 L833.85 364.26 L834.30 366.25 L834.75 369.70 L835.20 362.36 L835.60 363.27 L835.65 367.49 L836.10 360.05 L836.55 369.08 L837.00 378.12 L837.45 385.69 L837.50 387.14 L837.90 386.22 L838.35 398.88 L838.80 389.61 L839.25 393.62 L839.70 401.12 L840.15 401.40 L840.60 399.75 L840.70 402.00 L841.05 405.98 L841.50 405.24 L841.95 411.37 L842.40 406.88 L842.85 413.02 L843.10 405.48 L843.30 408.74 L843.75 406.29 L844.20 414.89 L844.65 404.16 L845.10 404.51 L845.55 395.99 L846.00 396.95 L846.20 395.85 L846.45 392.41 L846.90 398.77 L847.35 385.86 L847.80 395.09 L848.25 403.42 L848.70 386.96 L849.00 390.72 L849.15 383.49 L849.60 390.96 L850.05 384.02 L850.50 395.90 L850.95 391.86 L851.40 386.54 L851.85 389.53 L852.00 388.22 L852.30 393.98 L852.75 398.32 L853.20 391.18 L853.65 385.82 L854.10 385.40 L854.55 387.76 L855.00 374.22 L855.45 386.24 L855.90 383.44 L856.35 368.26 L856.80 382.85 L857.25 367.89 L857.70 372.47 L858.00 377.67 L858.15 364.16 L858.60 361.28 L859.05 362.60 L859.50 360.83 L859.95 363.49 L860.40 360.47 L860.85 359.96 L861.00 359.98 L861.30 361.72 L861.75 360.39 L862.20 368.64 L862.65 370.55 L863.10 369.50 L863.55 385.90 L864.00 374.34 L864.45 385.64 L864.90 380.78 L865.35 387.69 L865.80 390.18 L866.25 393.42 L866.70 397.65 L867.00 388.35 L867.15 405.93 L867.60 396.54 L868.05 392.94 L868.50 392.38 L868.95 411.10 L869.40 409.15 L869.85 402.16 L870.00 405.80 L870.30 408.24 L870.75 402.11 L871.20 398.84 L871.65 399.53 L872.10 402.37 L872.55 397.45 L873.00 390.68 L873.45 398.80 L873.90 386.23 L874.35 389.52 L874.80 397.58 L875.25 392.10 L875.70 391.54 L876.00 390.84 L876.15 395.15 L876.60 390.94 L877.05 383.63 L877.50 395.47 L877.95 381.98 L878.40 388.07 L878.85 405.57 L879.00 403.12 L879.30 395.86 L879.75 396.11 L880.20 394.50 L880.65 396.04 L881.10 385.37 L881.55 383.00 L882.00 383.44 L882.45 387.39 L882.90 389.05 L883.35 387.49 L883.80 394.36 L884.25 387.52 L884.70 392.77 L885.00 390.14 L885.15 388.61 L885.60 397.82 L886.05 388.75 L886.50 383.19 L886.95 385.60 L887.40 378.85 L887.85 385.14 L888.00 386.23 L888.30 387.21 L888.75 378.39 L889.20 383.76 L889.65 394.26 L890.10 386.04 L890.55 393.78 L891.00 395.35 L891.45 381.96 L891.90 393.82 L892.35 391.57 L892.80 391.88 L893.25 395.23 L893.70 388.99 L894.15 386.46 L894.50 388.15" stroke="#f00" stroke-width="1" fill="none" stroke-dasharray="1 2.5" shape-rendering="crispEdges"/>
<path d="M69 25.5H919 M73.5 25V572 M69 566.5H920 M919.5 25V572" stroke="#000" stroke-width="1" fill="none" shape-rendering="crispEdges"/>
<path d="M73.5 566V572 M123.5 566V572 M172.5 566V572 M222.5 566V572 M272.5 566V572 M322.5 566V572 M372.5 566V572 M421.5 566V572 M471.5 566V572 M521.5 566V572 M571.5 566V572 M620.5 566V572 M670.5 566V572 M720.5 566V572 M770.5 566V572 M820.5 566V572 M869.5 566V572 M919.5 566V572 M69 566.5H74 M69 489.5H74 M69 412.5H74 M69 334.5H74 M69 257.5H74 M69 180.5H74 M69 102.5H74 M69 25.5H74" stroke="#000" stroke-width="1" fill="none" shape-rendering="crispEdges"/>
<g font-family="'Liberation Sans', sans-serif" font-size="12" fill="#1a1a1a"><text x="73.5" y="587" text-anchor="middle">230</text><text x="123.5" y="587" text-anchor="middle">240</text><text x="172.5" y="587" text-anchor="middle">250</text><text x="222.5" y="587" text-anchor="middle">260</text><text x="272.5" y="587" text-anchor="middle">270</text><text x="322.5" y="587" text-anchor="middle">280</text><text x="372.5" y="587" text-anchor="middle">290</text><text x="421.5" y="587" text-anchor="middle">300</text><text x="471.5" y="587" text-anchor="middle">310</text><text x="521.5" y="587" text-anchor="middle">320</text><text x="571.5" y="587" text-anchor="middle">330</text><text x="620.5" y="587" text-anchor="middle">340</text><text x="670.5" y="587" text-anchor="middle">350</text><text x="720.5" y="587" text-anchor="middle">360</text><text x="770.5" y="587" text-anchor="middle">370</text><text x="820.5" y="587" text-anchor="middle">380</text><text x="869.5" y="587" text-anchor="middle">390</text><text x="919.5" y="587" text-anchor="middle">400</text><text x="63" y="569.5" text-anchor="end">1e-24</text><text x="63" y="492.5" text-anchor="end">1e-23</text><text x="63" y="415.5" text-anchor="end">1e-22</text><text x="63" y="337.5" text-anchor="end">1e-21</text><text x="63" y="260.5" text-anchor="end">1e-20</text><text x="63" y="183.5" text-anchor="end">1e-19</text><text x="63" y="105.5" text-anchor="end">1e-18</text><text x="63" y="28.5" text-anchor="end">1e-17</text></g>
<text font-family="'Liberation Sans', sans-serif" font-size="14" fill="#202020" x="496.6" y="614" text-anchor="middle" letter-spacing="0.28">Wavelength [nm]</text>
<text font-family="'Liberation Sans', sans-serif" font-size="14" fill="#202020" transform="translate(19.5 295.5) rotate(-90)" text-anchor="middle" letter-spacing="0.13">Absorption cross section [cm<tspan font-size="10" dy="-7.5">2</tspan><tspan dy="7.5"> · molecule</tspan><tspan font-size="10" dy="-7.5">-1</tspan><tspan dy="7.5">]</tspan></text>
<rect x="606.5" y="159.5" width="120" height="51" fill="#fff" stroke="#000" stroke-width="1" shape-rendering="crispEdges"/>
<path d="M614 176.5H647" stroke="#000" stroke-width="1" shape-rendering="crispEdges"/>
<path d="M614 194h1v1h-1zM615 194h1v1h-1zM618 194h1v1h-1zM622 194h1v1h-1zM625 194h1v1h-1zM629 194h1v1h-1zM632 194h1v1h-1zM636 194h1v1h-1zM639 194h1v1h-1zM643 194h1v1h-1zM646 194h1v1h-1z" fill="#f00" shape-rendering="crispEdges"/>
<g font-family="'Liberation Sans', sans-serif" font-size="14" fill="#202020" letter-spacing="0.25"><text x="655.5" y="181">T = 203 K</text><text x="655.5" y="199">T = 293 K</text></g>
<g font-family="'Liberation Sans', sans-serif" font-size="16" text-anchor="middle" letter-spacing="0.30" fill="#383838"><text x="489.8" y="645" letter-spacing="0.33">Temperature dependence (203 and 293 K) of the absorption cross sections of sulfur dioxide SO<tspan font-size="12" dy="4.5">2</tspan><tspan dy="-4.5"> (239-295 nm),</tspan></text><text x="492.2" y="669">Bogumil et al., J. Photochem. Photobiol. A.: Photochem. 157 (2003) 167</text><text x="492.2" y="688">(available also data for 223, 234, and 273 K)</text></g>
</svg>
</body></html>
